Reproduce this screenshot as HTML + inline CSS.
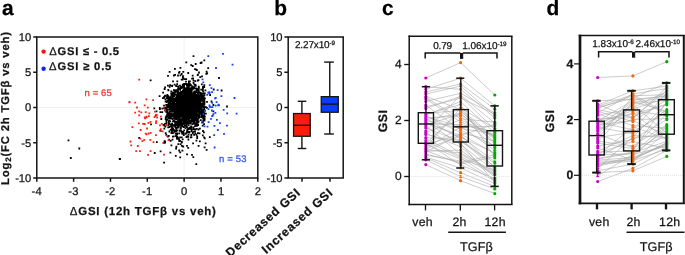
<!DOCTYPE html>
<html><head><meta charset="utf-8"><style>
html,body{margin:0;padding:0;background:#fff;}
svg{display:block;font-family:"Liberation Sans", sans-serif;text-rendering:geometricPrecision;will-change:transform;}
text{stroke-width:0.25px;}
</style></head><body>
<svg width="685" height="255" viewBox="0 0 685 255">
<rect width="685" height="255" fill="#fff"/>
<text x="2" y="15" font-size="20.9" text-anchor="start" font-weight="bold" fill="#000" stroke="#000" >a</text>
<text x="274.3" y="14.8" font-size="20.9" text-anchor="start" font-weight="bold" fill="#000" stroke="#000" >b</text>
<text x="381.9" y="15" font-size="20.9" text-anchor="start" font-weight="bold" fill="#000" stroke="#000" >c</text>
<text x="546.6" y="14.9" font-size="20.9" text-anchor="start" font-weight="bold" fill="#000" stroke="#000" >d</text>
<line x1="184.13" y1="37" x2="184.13" y2="178" stroke="#e4e4e4" stroke-width="1" stroke-dasharray="1 1"/>
<line x1="36.8" y1="107.5" x2="257.8" y2="107.5" stroke="#e4e4e4" stroke-width="1" stroke-dasharray="1 1"/>
<path d="M177.1 89.6h1.8v1.8h-1.8zM171.9 91.8h1.8v1.8h-1.8zM182.6 117.4h1.8v1.8h-1.8zM189.3 97.5h1.8v1.8h-1.8zM196.5 99.3h1.8v1.8h-1.8zM186.2 101.8h1.8v1.8h-1.8zM179.6 92.2h1.8v1.8h-1.8zM177.3 113.0h1.8v1.8h-1.8zM192.6 81.9h1.8v1.8h-1.8zM201.4 112.0h1.8v1.8h-1.8zM187.8 98.2h1.8v1.8h-1.8zM172.8 106.8h1.8v1.8h-1.8zM175.5 108.8h1.8v1.8h-1.8zM201.1 111.4h1.8v1.8h-1.8zM187.1 93.8h1.8v1.8h-1.8zM167.8 112.3h1.8v1.8h-1.8zM184.3 104.8h1.8v1.8h-1.8zM173.5 104.8h1.8v1.8h-1.8zM178.8 103.2h1.8v1.8h-1.8zM180.2 115.8h1.8v1.8h-1.8zM178.0 110.1h1.8v1.8h-1.8zM190.6 116.2h1.8v1.8h-1.8zM184.5 113.5h1.8v1.8h-1.8zM179.2 87.6h1.8v1.8h-1.8zM189.2 103.8h1.8v1.8h-1.8zM193.4 113.5h1.8v1.8h-1.8zM168.7 98.4h1.8v1.8h-1.8zM182.5 90.0h1.8v1.8h-1.8zM175.3 85.1h1.8v1.8h-1.8zM183.4 123.3h1.8v1.8h-1.8zM172.2 97.8h1.8v1.8h-1.8zM185.3 106.6h1.8v1.8h-1.8zM184.7 95.3h1.8v1.8h-1.8zM182.1 109.2h1.8v1.8h-1.8zM174.6 121.1h1.8v1.8h-1.8zM181.1 92.2h1.8v1.8h-1.8zM174.2 105.4h1.8v1.8h-1.8zM171.5 99.3h1.8v1.8h-1.8zM187.3 87.7h1.8v1.8h-1.8zM174.0 97.9h1.8v1.8h-1.8zM196.8 104.2h1.8v1.8h-1.8zM192.3 115.7h1.8v1.8h-1.8zM165.1 118.5h1.8v1.8h-1.8zM187.8 104.7h1.8v1.8h-1.8zM174.1 90.9h1.8v1.8h-1.8zM185.4 111.1h1.8v1.8h-1.8zM185.5 105.0h1.8v1.8h-1.8zM165.2 106.7h1.8v1.8h-1.8zM182.8 94.8h1.8v1.8h-1.8zM182.5 103.9h1.8v1.8h-1.8zM194.7 122.2h1.8v1.8h-1.8zM173.3 119.8h1.8v1.8h-1.8zM192.5 116.1h1.8v1.8h-1.8zM174.1 112.2h1.8v1.8h-1.8zM181.8 101.8h1.8v1.8h-1.8zM176.7 105.9h1.8v1.8h-1.8zM199.6 105.2h1.8v1.8h-1.8zM190.8 108.2h1.8v1.8h-1.8zM191.5 96.6h1.8v1.8h-1.8zM193.5 114.6h1.8v1.8h-1.8zM193.5 100.9h1.8v1.8h-1.8zM179.0 113.4h1.8v1.8h-1.8zM184.4 103.6h1.8v1.8h-1.8zM198.6 110.1h1.8v1.8h-1.8zM181.1 110.2h1.8v1.8h-1.8zM187.0 111.7h1.8v1.8h-1.8zM184.9 111.5h1.8v1.8h-1.8zM191.2 95.9h1.8v1.8h-1.8zM181.5 93.0h1.8v1.8h-1.8zM183.6 104.8h1.8v1.8h-1.8zM187.5 120.1h1.8v1.8h-1.8zM186.1 97.4h1.8v1.8h-1.8zM176.5 97.4h1.8v1.8h-1.8zM194.1 125.2h1.8v1.8h-1.8zM172.1 92.1h1.8v1.8h-1.8zM173.1 101.0h1.8v1.8h-1.8zM172.3 102.5h1.8v1.8h-1.8zM194.8 98.0h1.8v1.8h-1.8zM181.5 99.5h1.8v1.8h-1.8zM175.4 115.9h1.8v1.8h-1.8zM173.7 108.0h1.8v1.8h-1.8zM189.3 106.4h1.8v1.8h-1.8zM174.6 90.9h1.8v1.8h-1.8zM172.4 113.5h1.8v1.8h-1.8zM191.2 106.1h1.8v1.8h-1.8zM173.1 107.6h1.8v1.8h-1.8zM181.9 112.9h1.8v1.8h-1.8zM185.0 108.0h1.8v1.8h-1.8zM180.6 105.3h1.8v1.8h-1.8zM184.6 109.0h1.8v1.8h-1.8zM198.5 97.5h1.8v1.8h-1.8zM179.9 97.3h1.8v1.8h-1.8zM172.5 93.9h1.8v1.8h-1.8zM166.7 115.6h1.8v1.8h-1.8zM183.1 99.4h1.8v1.8h-1.8zM181.6 107.1h1.8v1.8h-1.8zM187.8 115.0h1.8v1.8h-1.8zM180.5 122.1h1.8v1.8h-1.8zM180.3 102.3h1.8v1.8h-1.8zM177.9 107.3h1.8v1.8h-1.8zM179.9 106.5h1.8v1.8h-1.8zM186.7 93.1h1.8v1.8h-1.8zM181.3 101.1h1.8v1.8h-1.8zM186.1 130.6h1.8v1.8h-1.8zM189.9 120.9h1.8v1.8h-1.8zM169.3 113.5h1.8v1.8h-1.8zM202.4 119.6h1.8v1.8h-1.8zM188.6 117.0h1.8v1.8h-1.8zM175.7 108.1h1.8v1.8h-1.8zM194.2 93.1h1.8v1.8h-1.8zM185.3 118.2h1.8v1.8h-1.8zM178.9 112.2h1.8v1.8h-1.8zM178.8 110.2h1.8v1.8h-1.8zM175.2 114.0h1.8v1.8h-1.8zM185.6 97.9h1.8v1.8h-1.8zM195.8 105.4h1.8v1.8h-1.8zM181.8 105.4h1.8v1.8h-1.8zM189.3 91.2h1.8v1.8h-1.8zM203.9 92.5h1.8v1.8h-1.8zM173.0 105.1h1.8v1.8h-1.8zM187.7 84.7h1.8v1.8h-1.8zM182.0 112.1h1.8v1.8h-1.8zM174.5 113.1h1.8v1.8h-1.8zM174.8 105.4h1.8v1.8h-1.8zM184.9 107.7h1.8v1.8h-1.8zM189.4 88.1h1.8v1.8h-1.8zM179.8 107.1h1.8v1.8h-1.8zM185.6 111.9h1.8v1.8h-1.8zM192.3 109.0h1.8v1.8h-1.8zM188.1 113.2h1.8v1.8h-1.8zM193.8 103.7h1.8v1.8h-1.8zM189.7 122.8h1.8v1.8h-1.8zM190.0 108.6h1.8v1.8h-1.8zM203.4 110.7h1.8v1.8h-1.8zM191.3 114.4h1.8v1.8h-1.8zM186.4 98.0h1.8v1.8h-1.8zM192.2 94.2h1.8v1.8h-1.8zM175.9 113.0h1.8v1.8h-1.8zM181.7 93.9h1.8v1.8h-1.8zM193.0 98.9h1.8v1.8h-1.8zM191.4 113.5h1.8v1.8h-1.8zM200.6 93.7h1.8v1.8h-1.8zM185.2 96.1h1.8v1.8h-1.8zM170.5 95.0h1.8v1.8h-1.8zM196.0 121.1h1.8v1.8h-1.8zM174.5 111.0h1.8v1.8h-1.8zM198.9 112.6h1.8v1.8h-1.8zM185.4 87.3h1.8v1.8h-1.8zM167.0 84.7h1.8v1.8h-1.8zM180.9 94.9h1.8v1.8h-1.8zM180.0 115.0h1.8v1.8h-1.8zM201.0 114.3h1.8v1.8h-1.8zM177.2 87.7h1.8v1.8h-1.8zM182.6 89.3h1.8v1.8h-1.8zM182.3 111.2h1.8v1.8h-1.8zM181.3 107.6h1.8v1.8h-1.8zM176.0 109.8h1.8v1.8h-1.8zM187.3 110.8h1.8v1.8h-1.8zM195.9 94.8h1.8v1.8h-1.8zM191.3 105.5h1.8v1.8h-1.8zM175.8 103.2h1.8v1.8h-1.8zM173.6 117.2h1.8v1.8h-1.8zM186.3 102.0h1.8v1.8h-1.8zM178.0 88.3h1.8v1.8h-1.8zM178.8 117.0h1.8v1.8h-1.8zM168.3 122.9h1.8v1.8h-1.8zM194.3 101.1h1.8v1.8h-1.8zM175.4 97.1h1.8v1.8h-1.8zM194.2 113.2h1.8v1.8h-1.8zM198.5 98.8h1.8v1.8h-1.8zM179.6 112.5h1.8v1.8h-1.8zM181.2 104.0h1.8v1.8h-1.8zM191.6 86.0h1.8v1.8h-1.8zM183.9 109.5h1.8v1.8h-1.8zM182.8 95.9h1.8v1.8h-1.8zM184.5 90.6h1.8v1.8h-1.8zM203.6 102.7h1.8v1.8h-1.8zM179.9 104.4h1.8v1.8h-1.8zM175.8 111.4h1.8v1.8h-1.8zM175.3 111.0h1.8v1.8h-1.8zM179.4 120.2h1.8v1.8h-1.8zM185.5 104.0h1.8v1.8h-1.8zM189.9 99.8h1.8v1.8h-1.8zM195.4 102.3h1.8v1.8h-1.8zM189.0 115.6h1.8v1.8h-1.8zM176.4 103.9h1.8v1.8h-1.8zM190.2 97.1h1.8v1.8h-1.8zM187.6 89.2h1.8v1.8h-1.8zM203.9 116.0h1.8v1.8h-1.8zM185.0 117.9h1.8v1.8h-1.8zM171.7 106.1h1.8v1.8h-1.8zM174.6 124.7h1.8v1.8h-1.8zM199.6 100.0h1.8v1.8h-1.8zM179.7 112.0h1.8v1.8h-1.8zM164.1 94.8h1.8v1.8h-1.8zM179.3 96.2h1.8v1.8h-1.8zM185.1 104.8h1.8v1.8h-1.8zM197.0 108.2h1.8v1.8h-1.8zM175.0 111.4h1.8v1.8h-1.8zM191.8 96.1h1.8v1.8h-1.8zM193.1 99.4h1.8v1.8h-1.8zM178.1 104.5h1.8v1.8h-1.8zM183.2 102.5h1.8v1.8h-1.8zM202.8 101.0h1.8v1.8h-1.8zM202.3 110.8h1.8v1.8h-1.8zM193.7 114.8h1.8v1.8h-1.8zM188.4 87.8h1.8v1.8h-1.8zM196.5 115.9h1.8v1.8h-1.8zM183.7 106.7h1.8v1.8h-1.8zM184.1 108.0h1.8v1.8h-1.8zM176.5 108.8h1.8v1.8h-1.8zM185.2 113.5h1.8v1.8h-1.8zM184.3 111.4h1.8v1.8h-1.8zM212.8 88.6h1.8v1.8h-1.8zM183.2 113.1h1.8v1.8h-1.8zM197.8 93.6h1.8v1.8h-1.8zM198.3 107.3h1.8v1.8h-1.8zM183.2 107.1h1.8v1.8h-1.8zM196.8 90.0h1.8v1.8h-1.8zM163.3 107.1h1.8v1.8h-1.8zM186.0 102.6h1.8v1.8h-1.8zM193.7 98.2h1.8v1.8h-1.8zM173.5 107.5h1.8v1.8h-1.8zM195.7 100.7h1.8v1.8h-1.8zM182.5 121.1h1.8v1.8h-1.8zM174.1 105.8h1.8v1.8h-1.8zM181.4 104.2h1.8v1.8h-1.8zM179.7 87.3h1.8v1.8h-1.8zM192.3 109.9h1.8v1.8h-1.8zM189.6 113.8h1.8v1.8h-1.8zM182.3 122.7h1.8v1.8h-1.8zM178.4 96.5h1.8v1.8h-1.8zM184.6 114.6h1.8v1.8h-1.8zM198.4 116.6h1.8v1.8h-1.8zM188.6 111.3h1.8v1.8h-1.8zM191.5 104.5h1.8v1.8h-1.8zM183.6 90.2h1.8v1.8h-1.8zM172.2 107.9h1.8v1.8h-1.8zM178.0 100.7h1.8v1.8h-1.8zM191.6 88.6h1.8v1.8h-1.8zM186.1 110.5h1.8v1.8h-1.8zM176.1 104.8h1.8v1.8h-1.8zM168.9 104.4h1.8v1.8h-1.8zM186.2 122.9h1.8v1.8h-1.8zM181.7 100.5h1.8v1.8h-1.8zM181.6 86.5h1.8v1.8h-1.8zM181.8 85.2h1.8v1.8h-1.8zM187.9 109.6h1.8v1.8h-1.8zM188.0 102.8h1.8v1.8h-1.8zM194.7 97.3h1.8v1.8h-1.8zM194.4 84.9h1.8v1.8h-1.8zM198.4 96.3h1.8v1.8h-1.8zM193.2 94.0h1.8v1.8h-1.8zM181.7 104.3h1.8v1.8h-1.8zM184.6 97.2h1.8v1.8h-1.8zM190.0 96.5h1.8v1.8h-1.8zM182.0 104.8h1.8v1.8h-1.8zM190.6 97.3h1.8v1.8h-1.8zM196.6 106.8h1.8v1.8h-1.8zM177.1 74.6h1.8v1.8h-1.8zM167.4 95.2h1.8v1.8h-1.8zM197.0 114.8h1.8v1.8h-1.8zM185.3 106.7h1.8v1.8h-1.8zM192.2 94.3h1.8v1.8h-1.8zM171.8 104.3h1.8v1.8h-1.8zM202.4 98.0h1.8v1.8h-1.8zM192.5 100.8h1.8v1.8h-1.8zM183.8 117.9h1.8v1.8h-1.8zM181.6 101.3h1.8v1.8h-1.8zM186.2 106.6h1.8v1.8h-1.8zM183.4 97.2h1.8v1.8h-1.8zM182.3 98.3h1.8v1.8h-1.8zM173.9 91.7h1.8v1.8h-1.8zM197.7 97.7h1.8v1.8h-1.8zM184.7 101.1h1.8v1.8h-1.8zM185.8 101.9h1.8v1.8h-1.8zM186.0 105.2h1.8v1.8h-1.8zM161.5 107.8h1.8v1.8h-1.8zM190.4 110.3h1.8v1.8h-1.8zM181.8 103.1h1.8v1.8h-1.8zM182.2 117.0h1.8v1.8h-1.8zM185.8 110.2h1.8v1.8h-1.8zM175.4 118.2h1.8v1.8h-1.8zM193.5 103.6h1.8v1.8h-1.8zM178.1 116.5h1.8v1.8h-1.8zM176.1 106.5h1.8v1.8h-1.8zM176.5 90.6h1.8v1.8h-1.8zM186.7 104.5h1.8v1.8h-1.8zM192.6 102.6h1.8v1.8h-1.8zM179.1 92.2h1.8v1.8h-1.8zM170.0 97.3h1.8v1.8h-1.8zM195.7 98.4h1.8v1.8h-1.8zM174.4 126.5h1.8v1.8h-1.8zM197.0 106.6h1.8v1.8h-1.8zM184.6 121.3h1.8v1.8h-1.8zM178.1 114.0h1.8v1.8h-1.8zM178.7 115.3h1.8v1.8h-1.8zM189.7 111.8h1.8v1.8h-1.8zM194.0 90.6h1.8v1.8h-1.8zM183.1 116.4h1.8v1.8h-1.8zM194.6 95.0h1.8v1.8h-1.8zM206.0 107.0h1.8v1.8h-1.8zM183.0 104.2h1.8v1.8h-1.8zM173.6 120.6h1.8v1.8h-1.8zM174.6 116.7h1.8v1.8h-1.8zM171.2 122.8h1.8v1.8h-1.8zM178.7 110.0h1.8v1.8h-1.8zM177.9 105.7h1.8v1.8h-1.8zM171.8 113.2h1.8v1.8h-1.8zM190.4 126.2h1.8v1.8h-1.8zM171.9 106.6h1.8v1.8h-1.8zM195.5 97.4h1.8v1.8h-1.8zM190.3 103.8h1.8v1.8h-1.8zM189.7 110.7h1.8v1.8h-1.8zM202.8 109.1h1.8v1.8h-1.8zM190.5 103.7h1.8v1.8h-1.8zM185.9 106.2h1.8v1.8h-1.8zM172.8 120.0h1.8v1.8h-1.8zM184.4 121.8h1.8v1.8h-1.8zM177.8 116.5h1.8v1.8h-1.8zM178.0 119.5h1.8v1.8h-1.8zM178.0 116.9h1.8v1.8h-1.8zM184.7 121.6h1.8v1.8h-1.8zM181.8 94.1h1.8v1.8h-1.8zM193.8 99.7h1.8v1.8h-1.8zM171.8 108.4h1.8v1.8h-1.8zM183.4 108.8h1.8v1.8h-1.8zM203.7 115.5h1.8v1.8h-1.8zM185.5 88.5h1.8v1.8h-1.8zM197.1 105.4h1.8v1.8h-1.8zM196.5 106.5h1.8v1.8h-1.8zM198.3 97.9h1.8v1.8h-1.8zM192.5 103.2h1.8v1.8h-1.8zM171.3 115.4h1.8v1.8h-1.8zM182.4 109.6h1.8v1.8h-1.8zM181.3 104.4h1.8v1.8h-1.8zM169.6 108.4h1.8v1.8h-1.8zM180.5 104.5h1.8v1.8h-1.8zM172.6 114.7h1.8v1.8h-1.8zM168.4 105.8h1.8v1.8h-1.8zM187.2 113.8h1.8v1.8h-1.8zM184.7 100.2h1.8v1.8h-1.8zM178.2 105.5h1.8v1.8h-1.8zM175.6 96.0h1.8v1.8h-1.8zM179.7 103.8h1.8v1.8h-1.8zM181.2 113.1h1.8v1.8h-1.8zM181.0 96.5h1.8v1.8h-1.8zM184.6 102.1h1.8v1.8h-1.8zM180.7 106.6h1.8v1.8h-1.8zM189.0 101.7h1.8v1.8h-1.8zM190.3 112.3h1.8v1.8h-1.8zM188.7 93.7h1.8v1.8h-1.8zM178.5 113.6h1.8v1.8h-1.8zM178.9 117.7h1.8v1.8h-1.8zM189.4 119.8h1.8v1.8h-1.8zM183.1 104.9h1.8v1.8h-1.8zM184.7 98.1h1.8v1.8h-1.8zM188.5 112.4h1.8v1.8h-1.8zM188.4 107.6h1.8v1.8h-1.8zM199.0 107.1h1.8v1.8h-1.8zM192.3 110.7h1.8v1.8h-1.8zM187.3 101.8h1.8v1.8h-1.8zM185.3 92.0h1.8v1.8h-1.8zM170.8 93.7h1.8v1.8h-1.8zM193.9 97.4h1.8v1.8h-1.8zM179.1 97.6h1.8v1.8h-1.8zM190.1 90.5h1.8v1.8h-1.8zM187.1 101.2h1.8v1.8h-1.8zM187.8 95.7h1.8v1.8h-1.8zM194.0 110.4h1.8v1.8h-1.8zM180.2 105.1h1.8v1.8h-1.8zM181.2 112.8h1.8v1.8h-1.8zM176.5 94.1h1.8v1.8h-1.8zM181.3 95.7h1.8v1.8h-1.8zM201.8 89.4h1.8v1.8h-1.8zM181.5 108.2h1.8v1.8h-1.8zM197.0 132.3h1.8v1.8h-1.8zM193.4 106.6h1.8v1.8h-1.8zM192.4 100.7h1.8v1.8h-1.8zM193.1 106.5h1.8v1.8h-1.8zM175.0 105.9h1.8v1.8h-1.8zM188.8 113.7h1.8v1.8h-1.8zM201.0 103.8h1.8v1.8h-1.8zM178.1 98.0h1.8v1.8h-1.8zM184.6 88.2h1.8v1.8h-1.8zM178.2 109.2h1.8v1.8h-1.8zM188.3 114.1h1.8v1.8h-1.8zM174.3 107.6h1.8v1.8h-1.8zM201.2 95.9h1.8v1.8h-1.8zM181.3 101.7h1.8v1.8h-1.8zM169.7 103.8h1.8v1.8h-1.8zM203.0 108.9h1.8v1.8h-1.8zM194.8 103.9h1.8v1.8h-1.8zM190.3 115.4h1.8v1.8h-1.8zM190.4 103.0h1.8v1.8h-1.8zM181.5 99.8h1.8v1.8h-1.8zM182.9 122.2h1.8v1.8h-1.8zM192.3 95.6h1.8v1.8h-1.8zM194.3 97.4h1.8v1.8h-1.8zM194.4 123.3h1.8v1.8h-1.8zM187.2 107.7h1.8v1.8h-1.8zM180.4 121.8h1.8v1.8h-1.8zM183.2 83.0h1.8v1.8h-1.8zM196.2 115.6h1.8v1.8h-1.8zM199.5 104.0h1.8v1.8h-1.8zM181.7 106.6h1.8v1.8h-1.8zM180.3 110.2h1.8v1.8h-1.8zM197.6 79.3h1.8v1.8h-1.8zM192.3 96.6h1.8v1.8h-1.8zM192.1 108.7h1.8v1.8h-1.8zM172.0 135.7h1.8v1.8h-1.8zM181.4 98.9h1.8v1.8h-1.8zM180.0 127.1h1.8v1.8h-1.8zM187.2 110.9h1.8v1.8h-1.8zM168.3 116.1h1.8v1.8h-1.8zM197.8 95.5h1.8v1.8h-1.8zM188.1 110.6h1.8v1.8h-1.8zM189.4 97.2h1.8v1.8h-1.8zM173.3 95.5h1.8v1.8h-1.8zM184.8 116.9h1.8v1.8h-1.8zM198.4 97.8h1.8v1.8h-1.8zM169.4 102.1h1.8v1.8h-1.8zM188.2 111.3h1.8v1.8h-1.8zM192.1 97.4h1.8v1.8h-1.8zM178.2 94.5h1.8v1.8h-1.8zM193.2 106.6h1.8v1.8h-1.8zM181.8 108.1h1.8v1.8h-1.8zM197.4 117.9h1.8v1.8h-1.8zM190.4 94.7h1.8v1.8h-1.8zM187.3 111.6h1.8v1.8h-1.8zM193.4 100.6h1.8v1.8h-1.8zM198.2 102.6h1.8v1.8h-1.8zM173.2 106.5h1.8v1.8h-1.8zM178.6 96.5h1.8v1.8h-1.8zM193.5 92.6h1.8v1.8h-1.8zM194.2 110.8h1.8v1.8h-1.8zM184.5 95.7h1.8v1.8h-1.8zM192.9 95.7h1.8v1.8h-1.8zM174.5 113.3h1.8v1.8h-1.8zM187.2 100.1h1.8v1.8h-1.8zM173.6 102.6h1.8v1.8h-1.8zM188.5 92.2h1.8v1.8h-1.8zM180.2 94.5h1.8v1.8h-1.8zM178.7 93.2h1.8v1.8h-1.8zM185.7 92.6h1.8v1.8h-1.8zM203.3 114.7h1.8v1.8h-1.8zM175.0 97.3h1.8v1.8h-1.8zM179.1 84.7h1.8v1.8h-1.8zM195.8 94.1h1.8v1.8h-1.8zM180.9 111.7h1.8v1.8h-1.8zM202.8 92.8h1.8v1.8h-1.8zM187.3 104.3h1.8v1.8h-1.8zM186.0 96.3h1.8v1.8h-1.8zM188.7 88.6h1.8v1.8h-1.8zM202.5 98.3h1.8v1.8h-1.8zM191.7 94.9h1.8v1.8h-1.8zM190.3 105.9h1.8v1.8h-1.8zM187.6 110.9h1.8v1.8h-1.8zM169.5 105.5h1.8v1.8h-1.8zM176.2 129.4h1.8v1.8h-1.8zM199.9 93.8h1.8v1.8h-1.8zM193.3 116.1h1.8v1.8h-1.8zM190.2 108.1h1.8v1.8h-1.8zM191.5 116.8h1.8v1.8h-1.8zM179.7 110.0h1.8v1.8h-1.8zM188.5 84.1h1.8v1.8h-1.8zM176.1 102.8h1.8v1.8h-1.8zM189.0 113.6h1.8v1.8h-1.8zM178.0 105.5h1.8v1.8h-1.8zM183.0 92.9h1.8v1.8h-1.8zM189.6 99.3h1.8v1.8h-1.8zM181.8 107.9h1.8v1.8h-1.8zM191.6 115.1h1.8v1.8h-1.8zM189.7 98.8h1.8v1.8h-1.8zM188.7 105.2h1.8v1.8h-1.8zM198.3 95.0h1.8v1.8h-1.8zM170.4 95.0h1.8v1.8h-1.8zM169.1 101.3h1.8v1.8h-1.8zM191.3 116.2h1.8v1.8h-1.8zM194.5 110.2h1.8v1.8h-1.8zM192.7 103.6h1.8v1.8h-1.8zM193.4 108.6h1.8v1.8h-1.8zM176.3 104.1h1.8v1.8h-1.8zM192.6 99.8h1.8v1.8h-1.8zM191.8 101.1h1.8v1.8h-1.8zM174.5 111.1h1.8v1.8h-1.8zM176.1 101.6h1.8v1.8h-1.8zM184.0 111.5h1.8v1.8h-1.8zM188.0 87.3h1.8v1.8h-1.8zM185.8 100.4h1.8v1.8h-1.8zM187.4 109.4h1.8v1.8h-1.8zM183.3 96.1h1.8v1.8h-1.8zM187.8 99.2h1.8v1.8h-1.8zM189.7 106.7h1.8v1.8h-1.8zM175.0 104.2h1.8v1.8h-1.8zM189.3 97.8h1.8v1.8h-1.8zM182.6 101.4h1.8v1.8h-1.8zM175.6 96.7h1.8v1.8h-1.8zM187.2 111.3h1.8v1.8h-1.8zM200.0 106.8h1.8v1.8h-1.8zM170.5 113.3h1.8v1.8h-1.8zM168.6 126.1h1.8v1.8h-1.8zM168.6 117.1h1.8v1.8h-1.8zM182.6 103.8h1.8v1.8h-1.8zM184.5 125.0h1.8v1.8h-1.8zM177.2 107.6h1.8v1.8h-1.8zM175.7 103.6h1.8v1.8h-1.8zM164.8 118.3h1.8v1.8h-1.8zM186.8 108.6h1.8v1.8h-1.8zM187.7 102.5h1.8v1.8h-1.8zM165.3 110.9h1.8v1.8h-1.8zM174.7 123.8h1.8v1.8h-1.8zM177.7 107.3h1.8v1.8h-1.8zM184.8 108.9h1.8v1.8h-1.8zM187.5 97.4h1.8v1.8h-1.8zM196.4 100.3h1.8v1.8h-1.8zM198.7 112.4h1.8v1.8h-1.8zM195.8 103.9h1.8v1.8h-1.8zM198.5 105.7h1.8v1.8h-1.8zM173.4 116.8h1.8v1.8h-1.8zM179.6 103.4h1.8v1.8h-1.8zM196.5 118.8h1.8v1.8h-1.8zM188.0 99.9h1.8v1.8h-1.8zM185.3 99.1h1.8v1.8h-1.8zM165.3 100.5h1.8v1.8h-1.8zM166.5 94.1h1.8v1.8h-1.8zM192.4 110.2h1.8v1.8h-1.8zM188.5 105.8h1.8v1.8h-1.8zM182.1 118.5h1.8v1.8h-1.8zM181.0 99.7h1.8v1.8h-1.8zM167.8 114.2h1.8v1.8h-1.8zM188.8 117.5h1.8v1.8h-1.8zM195.4 102.9h1.8v1.8h-1.8zM201.5 102.8h1.8v1.8h-1.8zM185.6 83.3h1.8v1.8h-1.8zM183.1 123.3h1.8v1.8h-1.8zM174.1 105.5h1.8v1.8h-1.8zM197.3 110.7h1.8v1.8h-1.8zM202.2 99.4h1.8v1.8h-1.8zM179.0 109.3h1.8v1.8h-1.8zM188.0 95.0h1.8v1.8h-1.8zM186.0 112.2h1.8v1.8h-1.8zM179.4 107.0h1.8v1.8h-1.8zM181.4 109.8h1.8v1.8h-1.8zM191.2 88.9h1.8v1.8h-1.8zM170.7 108.3h1.8v1.8h-1.8zM176.7 102.4h1.8v1.8h-1.8zM197.9 111.3h1.8v1.8h-1.8zM190.1 103.4h1.8v1.8h-1.8zM185.6 102.8h1.8v1.8h-1.8zM182.4 132.5h1.8v1.8h-1.8zM178.7 97.1h1.8v1.8h-1.8zM184.3 122.5h1.8v1.8h-1.8zM182.0 114.0h1.8v1.8h-1.8zM182.6 112.6h1.8v1.8h-1.8zM184.8 88.3h1.8v1.8h-1.8zM186.4 112.7h1.8v1.8h-1.8zM200.6 99.4h1.8v1.8h-1.8zM170.6 98.5h1.8v1.8h-1.8zM187.7 110.4h1.8v1.8h-1.8zM178.9 99.5h1.8v1.8h-1.8zM173.7 111.4h1.8v1.8h-1.8zM191.2 110.0h1.8v1.8h-1.8zM175.2 110.1h1.8v1.8h-1.8zM177.5 98.3h1.8v1.8h-1.8zM189.7 96.2h1.8v1.8h-1.8zM174.2 100.1h1.8v1.8h-1.8zM185.3 100.3h1.8v1.8h-1.8zM184.3 99.8h1.8v1.8h-1.8zM193.0 121.0h1.8v1.8h-1.8zM195.1 107.9h1.8v1.8h-1.8zM176.3 102.7h1.8v1.8h-1.8zM194.2 101.3h1.8v1.8h-1.8zM184.0 97.9h1.8v1.8h-1.8zM186.2 107.4h1.8v1.8h-1.8zM182.9 104.6h1.8v1.8h-1.8zM192.8 98.2h1.8v1.8h-1.8zM172.9 99.8h1.8v1.8h-1.8zM187.6 101.1h1.8v1.8h-1.8zM196.8 94.4h1.8v1.8h-1.8zM182.2 106.2h1.8v1.8h-1.8zM177.6 110.5h1.8v1.8h-1.8zM187.1 101.8h1.8v1.8h-1.8zM180.2 110.2h1.8v1.8h-1.8zM178.8 100.3h1.8v1.8h-1.8zM173.8 89.2h1.8v1.8h-1.8zM179.6 93.7h1.8v1.8h-1.8zM184.5 102.5h1.8v1.8h-1.8zM177.0 109.2h1.8v1.8h-1.8zM193.8 107.9h1.8v1.8h-1.8zM200.2 108.4h1.8v1.8h-1.8zM169.7 112.6h1.8v1.8h-1.8zM193.3 107.7h1.8v1.8h-1.8zM186.9 108.9h1.8v1.8h-1.8zM187.4 102.9h1.8v1.8h-1.8zM197.0 103.1h1.8v1.8h-1.8zM188.3 104.2h1.8v1.8h-1.8zM186.8 106.7h1.8v1.8h-1.8zM163.4 127.7h1.8v1.8h-1.8zM192.8 91.3h1.8v1.8h-1.8zM177.6 101.6h1.8v1.8h-1.8zM186.9 102.7h1.8v1.8h-1.8zM186.1 108.9h1.8v1.8h-1.8zM194.7 104.5h1.8v1.8h-1.8zM194.9 90.4h1.8v1.8h-1.8zM197.8 120.4h1.8v1.8h-1.8zM182.8 94.3h1.8v1.8h-1.8zM189.7 98.5h1.8v1.8h-1.8zM192.8 109.6h1.8v1.8h-1.8zM170.7 107.4h1.8v1.8h-1.8zM178.0 106.6h1.8v1.8h-1.8zM172.3 110.0h1.8v1.8h-1.8zM201.4 112.5h1.8v1.8h-1.8zM178.1 94.7h1.8v1.8h-1.8zM179.0 99.3h1.8v1.8h-1.8zM186.2 122.5h1.8v1.8h-1.8zM165.3 115.5h1.8v1.8h-1.8zM179.0 115.5h1.8v1.8h-1.8zM205.1 106.3h1.8v1.8h-1.8zM191.7 123.3h1.8v1.8h-1.8zM192.6 99.5h1.8v1.8h-1.8zM197.3 101.2h1.8v1.8h-1.8zM191.9 97.8h1.8v1.8h-1.8zM181.8 119.7h1.8v1.8h-1.8zM169.2 102.1h1.8v1.8h-1.8zM189.6 109.5h1.8v1.8h-1.8zM173.9 94.0h1.8v1.8h-1.8zM184.5 92.3h1.8v1.8h-1.8zM202.7 112.6h1.8v1.8h-1.8zM190.5 111.2h1.8v1.8h-1.8zM185.7 112.9h1.8v1.8h-1.8zM185.8 107.2h1.8v1.8h-1.8zM192.4 102.1h1.8v1.8h-1.8zM194.3 100.9h1.8v1.8h-1.8zM171.9 96.7h1.8v1.8h-1.8zM187.0 101.8h1.8v1.8h-1.8zM202.3 115.9h1.8v1.8h-1.8zM192.6 103.3h1.8v1.8h-1.8zM177.4 94.4h1.8v1.8h-1.8zM178.3 103.9h1.8v1.8h-1.8zM164.5 98.5h1.8v1.8h-1.8zM177.2 95.9h1.8v1.8h-1.8zM201.2 103.0h1.8v1.8h-1.8zM184.4 98.6h1.8v1.8h-1.8zM176.5 94.9h1.8v1.8h-1.8zM179.3 119.5h1.8v1.8h-1.8zM184.0 120.8h1.8v1.8h-1.8zM184.0 106.7h1.8v1.8h-1.8zM181.6 118.9h1.8v1.8h-1.8zM177.4 102.0h1.8v1.8h-1.8zM191.5 104.5h1.8v1.8h-1.8zM200.5 115.6h1.8v1.8h-1.8zM179.4 108.5h1.8v1.8h-1.8zM179.7 113.1h1.8v1.8h-1.8zM197.0 79.6h1.8v1.8h-1.8zM170.5 109.2h1.8v1.8h-1.8zM179.2 102.0h1.8v1.8h-1.8zM181.3 104.6h1.8v1.8h-1.8zM186.8 91.5h1.8v1.8h-1.8zM182.4 98.6h1.8v1.8h-1.8zM176.2 111.4h1.8v1.8h-1.8zM188.2 110.2h1.8v1.8h-1.8zM173.2 113.2h1.8v1.8h-1.8zM167.7 114.4h1.8v1.8h-1.8zM164.8 116.8h1.8v1.8h-1.8zM192.6 108.0h1.8v1.8h-1.8zM167.7 104.6h1.8v1.8h-1.8zM189.6 99.6h1.8v1.8h-1.8zM191.8 100.8h1.8v1.8h-1.8zM193.2 95.8h1.8v1.8h-1.8zM183.4 96.4h1.8v1.8h-1.8zM179.6 104.8h1.8v1.8h-1.8zM186.0 84.7h1.8v1.8h-1.8zM179.2 94.7h1.8v1.8h-1.8zM172.2 99.1h1.8v1.8h-1.8zM197.7 108.7h1.8v1.8h-1.8zM176.2 115.6h1.8v1.8h-1.8zM203.1 106.5h1.8v1.8h-1.8zM190.2 104.3h1.8v1.8h-1.8zM180.6 101.2h1.8v1.8h-1.8zM189.5 114.7h1.8v1.8h-1.8zM197.4 110.4h1.8v1.8h-1.8zM171.3 100.5h1.8v1.8h-1.8zM175.8 105.8h1.8v1.8h-1.8zM174.6 109.8h1.8v1.8h-1.8zM186.8 113.2h1.8v1.8h-1.8zM189.1 101.9h1.8v1.8h-1.8zM185.4 118.6h1.8v1.8h-1.8zM177.8 116.4h1.8v1.8h-1.8zM179.8 102.0h1.8v1.8h-1.8zM197.0 102.5h1.8v1.8h-1.8zM196.3 96.0h1.8v1.8h-1.8zM186.4 97.2h1.8v1.8h-1.8zM172.0 109.4h1.8v1.8h-1.8zM191.4 117.6h1.8v1.8h-1.8zM188.0 118.0h1.8v1.8h-1.8zM187.6 107.0h1.8v1.8h-1.8zM202.4 100.6h1.8v1.8h-1.8zM193.3 99.0h1.8v1.8h-1.8zM175.4 110.3h1.8v1.8h-1.8zM175.5 102.3h1.8v1.8h-1.8zM198.9 110.8h1.8v1.8h-1.8zM187.2 104.4h1.8v1.8h-1.8zM194.0 107.5h1.8v1.8h-1.8zM184.0 101.1h1.8v1.8h-1.8zM175.6 124.6h1.8v1.8h-1.8zM188.3 115.6h1.8v1.8h-1.8zM201.3 105.1h1.8v1.8h-1.8zM189.1 97.5h1.8v1.8h-1.8zM174.4 111.7h1.8v1.8h-1.8zM182.6 112.7h1.8v1.8h-1.8zM180.8 96.0h1.8v1.8h-1.8zM187.6 106.2h1.8v1.8h-1.8zM196.1 123.0h1.8v1.8h-1.8zM188.2 102.0h1.8v1.8h-1.8zM181.7 111.4h1.8v1.8h-1.8zM186.8 121.9h1.8v1.8h-1.8zM186.2 101.8h1.8v1.8h-1.8zM181.8 102.3h1.8v1.8h-1.8zM186.3 103.6h1.8v1.8h-1.8zM186.1 106.5h1.8v1.8h-1.8zM174.3 117.5h1.8v1.8h-1.8zM191.5 108.3h1.8v1.8h-1.8zM182.4 86.4h1.8v1.8h-1.8zM176.2 110.7h1.8v1.8h-1.8zM191.0 109.0h1.8v1.8h-1.8zM181.2 112.1h1.8v1.8h-1.8zM203.5 106.8h1.8v1.8h-1.8zM190.8 104.4h1.8v1.8h-1.8zM186.8 110.4h1.8v1.8h-1.8zM178.4 100.6h1.8v1.8h-1.8zM181.9 91.3h1.8v1.8h-1.8zM194.5 102.1h1.8v1.8h-1.8zM179.1 96.7h1.8v1.8h-1.8zM193.5 120.2h1.8v1.8h-1.8zM164.9 106.7h1.8v1.8h-1.8zM187.9 119.6h1.8v1.8h-1.8zM194.1 93.0h1.8v1.8h-1.8zM189.3 94.6h1.8v1.8h-1.8zM185.8 109.5h1.8v1.8h-1.8zM196.0 89.5h1.8v1.8h-1.8zM177.3 100.7h1.8v1.8h-1.8zM176.0 89.2h1.8v1.8h-1.8zM186.9 109.2h1.8v1.8h-1.8zM197.9 89.1h1.8v1.8h-1.8zM190.2 103.9h1.8v1.8h-1.8zM183.9 89.9h1.8v1.8h-1.8zM188.9 109.5h1.8v1.8h-1.8zM190.3 114.6h1.8v1.8h-1.8zM173.4 107.6h1.8v1.8h-1.8zM175.6 110.1h1.8v1.8h-1.8zM170.9 115.4h1.8v1.8h-1.8zM180.0 112.7h1.8v1.8h-1.8zM173.8 117.7h1.8v1.8h-1.8zM177.2 123.1h1.8v1.8h-1.8zM190.2 107.0h1.8v1.8h-1.8zM186.8 102.9h1.8v1.8h-1.8zM185.6 99.7h1.8v1.8h-1.8zM202.5 103.7h1.8v1.8h-1.8zM181.3 103.6h1.8v1.8h-1.8zM182.1 100.9h1.8v1.8h-1.8zM198.6 107.2h1.8v1.8h-1.8zM174.8 124.0h1.8v1.8h-1.8zM169.7 99.6h1.8v1.8h-1.8zM199.1 99.7h1.8v1.8h-1.8zM189.4 101.7h1.8v1.8h-1.8zM192.0 95.5h1.8v1.8h-1.8zM192.4 114.0h1.8v1.8h-1.8zM195.1 103.0h1.8v1.8h-1.8zM181.4 110.9h1.8v1.8h-1.8zM185.3 90.8h1.8v1.8h-1.8zM175.0 111.1h1.8v1.8h-1.8zM187.5 103.8h1.8v1.8h-1.8zM188.5 91.9h1.8v1.8h-1.8zM181.6 113.2h1.8v1.8h-1.8zM192.9 112.9h1.8v1.8h-1.8zM174.7 110.3h1.8v1.8h-1.8zM194.5 95.8h1.8v1.8h-1.8zM195.7 113.4h1.8v1.8h-1.8zM197.0 102.0h1.8v1.8h-1.8zM178.3 110.0h1.8v1.8h-1.8zM198.3 109.3h1.8v1.8h-1.8zM192.9 108.8h1.8v1.8h-1.8zM185.1 98.7h1.8v1.8h-1.8zM183.0 107.8h1.8v1.8h-1.8zM188.9 106.1h1.8v1.8h-1.8zM195.8 114.8h1.8v1.8h-1.8zM195.3 97.5h1.8v1.8h-1.8zM183.0 109.7h1.8v1.8h-1.8zM192.8 105.0h1.8v1.8h-1.8zM182.3 122.3h1.8v1.8h-1.8zM194.5 111.6h1.8v1.8h-1.8zM188.0 100.1h1.8v1.8h-1.8zM180.7 108.3h1.8v1.8h-1.8zM173.4 99.6h1.8v1.8h-1.8zM179.0 95.3h1.8v1.8h-1.8zM189.1 100.4h1.8v1.8h-1.8zM201.4 99.4h1.8v1.8h-1.8zM194.4 119.6h1.8v1.8h-1.8zM174.7 113.3h1.8v1.8h-1.8zM181.8 83.8h1.8v1.8h-1.8zM186.9 103.6h1.8v1.8h-1.8zM185.2 98.9h1.8v1.8h-1.8zM187.0 103.7h1.8v1.8h-1.8zM194.0 106.0h1.8v1.8h-1.8zM188.2 105.3h1.8v1.8h-1.8zM179.1 109.5h1.8v1.8h-1.8zM166.7 99.8h1.8v1.8h-1.8zM182.4 118.0h1.8v1.8h-1.8zM169.0 105.4h1.8v1.8h-1.8zM184.1 116.3h1.8v1.8h-1.8zM188.7 104.0h1.8v1.8h-1.8zM172.1 110.8h1.8v1.8h-1.8zM183.9 96.7h1.8v1.8h-1.8zM181.8 115.4h1.8v1.8h-1.8zM189.6 101.1h1.8v1.8h-1.8zM166.1 110.3h1.8v1.8h-1.8zM189.3 109.0h1.8v1.8h-1.8zM189.0 91.0h1.8v1.8h-1.8zM182.8 98.6h1.8v1.8h-1.8zM181.0 96.6h1.8v1.8h-1.8zM190.6 112.0h1.8v1.8h-1.8zM191.2 106.2h1.8v1.8h-1.8zM188.9 98.8h1.8v1.8h-1.8zM174.6 99.7h1.8v1.8h-1.8zM182.0 105.0h1.8v1.8h-1.8zM168.8 86.0h1.8v1.8h-1.8zM169.4 105.0h1.8v1.8h-1.8zM178.8 119.7h1.8v1.8h-1.8zM173.8 93.6h1.8v1.8h-1.8zM180.1 94.8h1.8v1.8h-1.8zM189.1 108.7h1.8v1.8h-1.8zM175.3 99.2h1.8v1.8h-1.8zM162.5 123.9h1.8v1.8h-1.8zM175.7 104.1h1.8v1.8h-1.8zM169.7 102.0h1.8v1.8h-1.8zM162.0 97.3h1.8v1.8h-1.8zM191.2 110.6h1.8v1.8h-1.8zM179.1 115.2h1.8v1.8h-1.8zM188.3 106.3h1.8v1.8h-1.8zM186.6 116.1h1.8v1.8h-1.8zM185.0 108.3h1.8v1.8h-1.8zM187.3 105.5h1.8v1.8h-1.8zM181.2 100.6h1.8v1.8h-1.8zM175.6 108.0h1.8v1.8h-1.8zM181.7 102.4h1.8v1.8h-1.8zM195.3 117.5h1.8v1.8h-1.8zM181.2 112.3h1.8v1.8h-1.8zM170.2 105.1h1.8v1.8h-1.8zM171.4 103.0h1.8v1.8h-1.8zM173.6 110.0h1.8v1.8h-1.8zM184.0 114.7h1.8v1.8h-1.8zM188.8 107.5h1.8v1.8h-1.8zM188.8 114.1h1.8v1.8h-1.8zM195.9 100.3h1.8v1.8h-1.8zM182.0 107.6h1.8v1.8h-1.8zM192.5 110.5h1.8v1.8h-1.8zM187.5 106.9h1.8v1.8h-1.8zM191.3 108.3h1.8v1.8h-1.8zM165.9 116.2h1.8v1.8h-1.8zM196.9 104.4h1.8v1.8h-1.8zM169.0 115.8h1.8v1.8h-1.8zM173.3 102.0h1.8v1.8h-1.8zM192.4 109.3h1.8v1.8h-1.8zM180.8 102.1h1.8v1.8h-1.8zM202.4 100.6h1.8v1.8h-1.8zM186.4 110.9h1.8v1.8h-1.8zM174.5 118.0h1.8v1.8h-1.8zM186.4 104.5h1.8v1.8h-1.8zM180.8 106.9h1.8v1.8h-1.8zM200.4 116.2h1.8v1.8h-1.8zM201.2 97.2h1.8v1.8h-1.8zM192.3 113.3h1.8v1.8h-1.8zM180.9 95.8h1.8v1.8h-1.8zM185.8 88.9h1.8v1.8h-1.8zM195.5 108.0h1.8v1.8h-1.8zM177.0 104.0h1.8v1.8h-1.8zM177.0 102.0h1.8v1.8h-1.8zM193.5 83.6h1.8v1.8h-1.8zM192.4 108.4h1.8v1.8h-1.8zM182.7 101.9h1.8v1.8h-1.8zM182.3 95.5h1.8v1.8h-1.8zM165.5 106.5h1.8v1.8h-1.8zM196.8 94.0h1.8v1.8h-1.8zM183.8 98.9h1.8v1.8h-1.8zM170.7 99.7h1.8v1.8h-1.8zM173.7 115.4h1.8v1.8h-1.8zM176.1 105.5h1.8v1.8h-1.8zM202.1 115.6h1.8v1.8h-1.8zM192.0 97.8h1.8v1.8h-1.8zM171.7 96.1h1.8v1.8h-1.8zM203.6 119.7h1.8v1.8h-1.8zM198.5 92.0h1.8v1.8h-1.8zM174.5 117.4h1.8v1.8h-1.8zM194.7 111.1h1.8v1.8h-1.8zM179.1 99.5h1.8v1.8h-1.8zM183.7 119.2h1.8v1.8h-1.8zM179.9 123.7h1.8v1.8h-1.8zM197.7 113.8h1.8v1.8h-1.8zM199.9 107.4h1.8v1.8h-1.8zM193.2 101.6h1.8v1.8h-1.8zM183.6 112.8h1.8v1.8h-1.8zM187.7 124.2h1.8v1.8h-1.8zM191.3 101.1h1.8v1.8h-1.8zM169.4 97.0h1.8v1.8h-1.8zM197.5 120.6h1.8v1.8h-1.8zM181.9 104.0h1.8v1.8h-1.8zM187.7 112.1h1.8v1.8h-1.8zM186.5 107.4h1.8v1.8h-1.8zM194.2 107.4h1.8v1.8h-1.8zM195.8 102.4h1.8v1.8h-1.8zM181.6 91.2h1.8v1.8h-1.8zM176.1 101.6h1.8v1.8h-1.8zM186.5 98.0h1.8v1.8h-1.8zM178.7 116.8h1.8v1.8h-1.8zM193.9 102.3h1.8v1.8h-1.8zM177.2 107.5h1.8v1.8h-1.8zM186.6 90.7h1.8v1.8h-1.8zM194.7 105.7h1.8v1.8h-1.8zM195.4 118.6h1.8v1.8h-1.8zM187.4 107.2h1.8v1.8h-1.8zM199.4 112.4h1.8v1.8h-1.8zM198.2 101.9h1.8v1.8h-1.8zM168.4 101.9h1.8v1.8h-1.8zM189.0 114.1h1.8v1.8h-1.8zM187.2 101.7h1.8v1.8h-1.8zM182.4 96.7h1.8v1.8h-1.8zM179.0 105.5h1.8v1.8h-1.8zM185.9 102.4h1.8v1.8h-1.8zM189.3 114.9h1.8v1.8h-1.8zM188.2 112.1h1.8v1.8h-1.8zM199.1 91.7h1.8v1.8h-1.8zM195.4 109.5h1.8v1.8h-1.8zM179.6 94.4h1.8v1.8h-1.8zM177.9 108.1h1.8v1.8h-1.8zM193.9 110.2h1.8v1.8h-1.8zM178.5 101.8h1.8v1.8h-1.8zM187.1 101.0h1.8v1.8h-1.8zM190.2 112.2h1.8v1.8h-1.8zM195.8 102.2h1.8v1.8h-1.8zM190.6 95.3h1.8v1.8h-1.8zM199.9 119.2h1.8v1.8h-1.8zM180.9 114.1h1.8v1.8h-1.8zM192.2 109.5h1.8v1.8h-1.8zM178.9 109.6h1.8v1.8h-1.8zM187.4 114.8h1.8v1.8h-1.8zM186.7 106.6h1.8v1.8h-1.8zM176.2 113.8h1.8v1.8h-1.8zM159.5 111.2h1.8v1.8h-1.8zM195.1 99.1h1.8v1.8h-1.8zM189.1 115.2h1.8v1.8h-1.8zM186.9 107.4h1.8v1.8h-1.8zM178.5 99.4h1.8v1.8h-1.8zM182.2 102.4h1.8v1.8h-1.8zM190.1 84.2h1.8v1.8h-1.8zM185.7 91.1h1.8v1.8h-1.8zM197.1 91.9h1.8v1.8h-1.8zM186.7 112.1h1.8v1.8h-1.8zM177.3 112.6h1.8v1.8h-1.8zM191.6 115.6h1.8v1.8h-1.8zM179.2 110.2h1.8v1.8h-1.8zM187.7 121.1h1.8v1.8h-1.8zM167.4 103.4h1.8v1.8h-1.8zM182.0 99.3h1.8v1.8h-1.8zM191.0 96.9h1.8v1.8h-1.8zM178.9 108.0h1.8v1.8h-1.8zM185.2 99.8h1.8v1.8h-1.8zM191.3 96.9h1.8v1.8h-1.8zM186.1 100.7h1.8v1.8h-1.8zM203.3 105.3h1.8v1.8h-1.8zM182.8 94.2h1.8v1.8h-1.8zM183.6 105.5h1.8v1.8h-1.8zM183.8 105.4h1.8v1.8h-1.8zM165.6 122.1h1.8v1.8h-1.8zM170.0 108.1h1.8v1.8h-1.8zM190.7 93.4h1.8v1.8h-1.8zM182.1 107.9h1.8v1.8h-1.8zM199.3 105.8h1.8v1.8h-1.8zM184.6 94.1h1.8v1.8h-1.8zM183.7 78.2h1.8v1.8h-1.8zM195.7 111.1h1.8v1.8h-1.8zM188.1 103.4h1.8v1.8h-1.8zM201.4 97.4h1.8v1.8h-1.8zM174.8 104.7h1.8v1.8h-1.8zM189.8 116.3h1.8v1.8h-1.8zM192.2 120.3h1.8v1.8h-1.8zM190.9 100.6h1.8v1.8h-1.8zM196.9 117.9h1.8v1.8h-1.8zM195.7 103.9h1.8v1.8h-1.8zM185.8 105.3h1.8v1.8h-1.8zM179.9 104.9h1.8v1.8h-1.8zM195.3 103.8h1.8v1.8h-1.8zM186.0 103.9h1.8v1.8h-1.8zM195.2 98.2h1.8v1.8h-1.8zM199.1 104.1h1.8v1.8h-1.8zM187.7 96.0h1.8v1.8h-1.8zM176.7 111.0h1.8v1.8h-1.8zM183.2 99.6h1.8v1.8h-1.8zM193.7 108.8h1.8v1.8h-1.8zM183.5 104.3h1.8v1.8h-1.8zM197.7 88.1h1.8v1.8h-1.8zM186.3 115.7h1.8v1.8h-1.8zM187.3 107.6h1.8v1.8h-1.8zM179.7 105.1h1.8v1.8h-1.8zM185.0 102.2h1.8v1.8h-1.8zM197.0 120.2h1.8v1.8h-1.8zM182.6 103.2h1.8v1.8h-1.8zM182.7 114.0h1.8v1.8h-1.8zM178.2 107.6h1.8v1.8h-1.8zM193.8 92.5h1.8v1.8h-1.8zM170.7 112.9h1.8v1.8h-1.8zM179.4 92.0h1.8v1.8h-1.8zM195.0 108.3h1.8v1.8h-1.8zM200.1 107.5h1.8v1.8h-1.8zM183.6 107.4h1.8v1.8h-1.8zM195.4 97.5h1.8v1.8h-1.8zM166.0 119.3h1.8v1.8h-1.8zM193.3 120.2h1.8v1.8h-1.8zM188.7 96.6h1.8v1.8h-1.8zM173.5 102.7h1.8v1.8h-1.8zM167.9 121.2h1.8v1.8h-1.8zM180.7 101.6h1.8v1.8h-1.8zM188.3 113.4h1.8v1.8h-1.8zM189.4 96.0h1.8v1.8h-1.8zM186.8 99.3h1.8v1.8h-1.8zM193.4 106.7h1.8v1.8h-1.8zM192.7 108.5h1.8v1.8h-1.8zM171.8 93.3h1.8v1.8h-1.8zM181.8 96.0h1.8v1.8h-1.8zM180.6 110.1h1.8v1.8h-1.8zM195.9 115.5h1.8v1.8h-1.8zM180.7 110.1h1.8v1.8h-1.8zM195.7 107.4h1.8v1.8h-1.8zM186.6 108.9h1.8v1.8h-1.8zM185.2 108.6h1.8v1.8h-1.8zM185.7 113.1h1.8v1.8h-1.8zM184.5 110.5h1.8v1.8h-1.8zM187.1 94.5h1.8v1.8h-1.8zM180.6 115.5h1.8v1.8h-1.8zM176.9 93.4h1.8v1.8h-1.8zM183.7 95.7h1.8v1.8h-1.8zM192.3 118.6h1.8v1.8h-1.8zM175.7 97.9h1.8v1.8h-1.8zM193.6 97.8h1.8v1.8h-1.8zM193.2 110.1h1.8v1.8h-1.8zM183.9 112.2h1.8v1.8h-1.8zM183.1 103.8h1.8v1.8h-1.8zM177.7 92.9h1.8v1.8h-1.8zM182.8 100.7h1.8v1.8h-1.8zM177.6 107.2h1.8v1.8h-1.8zM198.0 95.7h1.8v1.8h-1.8zM201.8 94.9h1.8v1.8h-1.8zM182.7 116.5h1.8v1.8h-1.8zM185.1 109.9h1.8v1.8h-1.8zM166.5 113.8h1.8v1.8h-1.8zM180.2 113.6h1.8v1.8h-1.8zM188.9 95.8h1.8v1.8h-1.8zM188.2 109.2h1.8v1.8h-1.8zM186.7 115.6h1.8v1.8h-1.8zM193.9 110.4h1.8v1.8h-1.8zM186.4 94.6h1.8v1.8h-1.8zM181.6 91.5h1.8v1.8h-1.8zM201.4 96.4h1.8v1.8h-1.8zM166.3 111.7h1.8v1.8h-1.8zM173.9 104.5h1.8v1.8h-1.8zM178.0 108.2h1.8v1.8h-1.8zM178.1 94.4h1.8v1.8h-1.8zM177.6 113.2h1.8v1.8h-1.8zM183.1 98.7h1.8v1.8h-1.8zM178.2 115.8h1.8v1.8h-1.8zM184.8 104.9h1.8v1.8h-1.8zM191.2 77.8h1.8v1.8h-1.8zM185.6 103.3h1.8v1.8h-1.8zM186.6 97.1h1.8v1.8h-1.8zM175.9 98.3h1.8v1.8h-1.8zM173.9 104.7h1.8v1.8h-1.8zM182.3 114.9h1.8v1.8h-1.8zM194.5 111.8h1.8v1.8h-1.8zM189.0 117.2h1.8v1.8h-1.8zM196.1 104.1h1.8v1.8h-1.8zM195.1 87.4h1.8v1.8h-1.8zM196.4 99.0h1.8v1.8h-1.8zM177.2 97.7h1.8v1.8h-1.8zM197.5 97.8h1.8v1.8h-1.8zM192.8 128.2h1.8v1.8h-1.8zM191.1 95.9h1.8v1.8h-1.8zM188.5 115.5h1.8v1.8h-1.8zM183.9 102.5h1.8v1.8h-1.8zM186.9 92.8h1.8v1.8h-1.8zM168.8 117.0h1.8v1.8h-1.8zM182.7 101.0h1.8v1.8h-1.8zM184.8 106.2h1.8v1.8h-1.8zM195.1 124.8h1.8v1.8h-1.8zM178.7 96.6h1.8v1.8h-1.8zM186.5 114.2h1.8v1.8h-1.8zM203.4 100.6h1.8v1.8h-1.8zM180.0 95.6h1.8v1.8h-1.8zM193.6 102.0h1.8v1.8h-1.8zM179.9 107.1h1.8v1.8h-1.8zM184.2 106.8h1.8v1.8h-1.8zM189.8 90.9h1.8v1.8h-1.8zM194.0 111.8h1.8v1.8h-1.8zM180.3 97.9h1.8v1.8h-1.8zM175.1 108.7h1.8v1.8h-1.8zM200.3 105.5h1.8v1.8h-1.8zM187.1 99.9h1.8v1.8h-1.8zM193.1 109.7h1.8v1.8h-1.8zM194.3 97.8h1.8v1.8h-1.8zM192.7 95.9h1.8v1.8h-1.8zM182.6 92.6h1.8v1.8h-1.8zM183.9 88.5h1.8v1.8h-1.8zM169.8 100.2h1.8v1.8h-1.8zM187.0 85.2h1.8v1.8h-1.8zM180.6 102.2h1.8v1.8h-1.8zM185.0 100.2h1.8v1.8h-1.8zM203.7 118.1h1.8v1.8h-1.8zM192.0 94.0h1.8v1.8h-1.8zM185.8 115.2h1.8v1.8h-1.8zM171.8 109.5h1.8v1.8h-1.8zM192.4 107.0h1.8v1.8h-1.8zM200.3 98.0h1.8v1.8h-1.8zM177.1 98.3h1.8v1.8h-1.8zM189.4 101.7h1.8v1.8h-1.8zM180.1 105.0h1.8v1.8h-1.8zM183.7 110.2h1.8v1.8h-1.8zM181.6 100.7h1.8v1.8h-1.8zM169.3 120.4h1.8v1.8h-1.8zM180.2 120.5h1.8v1.8h-1.8zM169.2 84.3h1.8v1.8h-1.8zM198.9 104.9h1.8v1.8h-1.8zM195.5 103.0h1.8v1.8h-1.8zM185.7 96.1h1.8v1.8h-1.8zM188.0 80.6h1.8v1.8h-1.8zM185.8 89.4h1.8v1.8h-1.8zM187.2 103.1h1.8v1.8h-1.8zM187.1 111.0h1.8v1.8h-1.8zM182.9 109.2h1.8v1.8h-1.8zM183.6 109.7h1.8v1.8h-1.8zM172.0 104.2h1.8v1.8h-1.8zM175.4 115.0h1.8v1.8h-1.8zM179.3 109.8h1.8v1.8h-1.8zM187.3 114.9h1.8v1.8h-1.8zM181.6 104.2h1.8v1.8h-1.8zM204.0 97.4h1.8v1.8h-1.8zM183.4 91.5h1.8v1.8h-1.8zM181.7 119.2h1.8v1.8h-1.8zM189.5 99.4h1.8v1.8h-1.8zM195.3 94.8h1.8v1.8h-1.8zM203.4 84.3h1.8v1.8h-1.8zM194.8 109.3h1.8v1.8h-1.8zM179.5 93.2h1.8v1.8h-1.8zM183.6 105.8h1.8v1.8h-1.8zM195.6 106.7h1.8v1.8h-1.8zM187.8 117.6h1.8v1.8h-1.8zM193.1 97.9h1.8v1.8h-1.8zM184.5 87.7h1.8v1.8h-1.8zM201.0 111.4h1.8v1.8h-1.8zM199.5 106.1h1.8v1.8h-1.8zM196.3 98.4h1.8v1.8h-1.8zM186.8 104.6h1.8v1.8h-1.8zM169.5 123.4h1.8v1.8h-1.8zM172.1 106.8h1.8v1.8h-1.8zM188.5 98.9h1.8v1.8h-1.8zM191.7 103.8h1.8v1.8h-1.8zM180.7 108.8h1.8v1.8h-1.8zM196.6 107.1h1.8v1.8h-1.8zM194.7 107.2h1.8v1.8h-1.8zM180.5 95.0h1.8v1.8h-1.8zM191.6 109.9h1.8v1.8h-1.8zM185.7 114.4h1.8v1.8h-1.8zM183.2 111.2h1.8v1.8h-1.8zM196.3 103.5h1.8v1.8h-1.8zM196.5 103.4h1.8v1.8h-1.8zM180.3 107.3h1.8v1.8h-1.8zM176.2 106.5h1.8v1.8h-1.8zM172.6 91.5h1.8v1.8h-1.8zM171.5 105.2h1.8v1.8h-1.8zM198.4 115.2h1.8v1.8h-1.8zM203.7 100.5h1.8v1.8h-1.8zM187.5 100.2h1.8v1.8h-1.8zM195.7 109.7h1.8v1.8h-1.8zM178.8 106.6h1.8v1.8h-1.8zM184.8 99.0h1.8v1.8h-1.8zM194.4 106.0h1.8v1.8h-1.8zM188.5 120.3h1.8v1.8h-1.8zM185.1 121.7h1.8v1.8h-1.8zM169.2 108.1h1.8v1.8h-1.8zM171.3 105.1h1.8v1.8h-1.8zM181.4 116.4h1.8v1.8h-1.8zM180.1 109.9h1.8v1.8h-1.8zM184.8 110.3h1.8v1.8h-1.8zM179.3 105.3h1.8v1.8h-1.8zM183.4 93.8h1.8v1.8h-1.8zM186.1 92.3h1.8v1.8h-1.8zM190.5 104.1h1.8v1.8h-1.8zM186.1 95.5h1.8v1.8h-1.8zM180.1 113.0h1.8v1.8h-1.8zM182.8 113.9h1.8v1.8h-1.8zM194.3 117.8h1.8v1.8h-1.8zM183.5 106.5h1.8v1.8h-1.8zM176.0 123.7h1.8v1.8h-1.8zM175.6 117.7h1.8v1.8h-1.8zM188.2 108.7h1.8v1.8h-1.8zM190.9 111.8h1.8v1.8h-1.8zM197.4 99.4h1.8v1.8h-1.8zM182.3 77.4h1.8v1.8h-1.8zM198.8 113.7h1.8v1.8h-1.8zM182.0 110.2h1.8v1.8h-1.8zM183.2 120.8h1.8v1.8h-1.8zM179.9 110.4h1.8v1.8h-1.8zM190.5 103.5h1.8v1.8h-1.8zM195.6 100.2h1.8v1.8h-1.8zM185.1 100.0h1.8v1.8h-1.8zM180.5 107.4h1.8v1.8h-1.8zM170.4 90.6h1.8v1.8h-1.8zM186.8 95.3h1.8v1.8h-1.8zM182.0 113.2h1.8v1.8h-1.8zM183.4 87.3h1.8v1.8h-1.8zM179.2 91.9h1.8v1.8h-1.8zM176.8 100.8h1.8v1.8h-1.8zM181.2 102.1h1.8v1.8h-1.8zM189.7 105.6h1.8v1.8h-1.8zM194.6 112.1h1.8v1.8h-1.8zM185.2 107.9h1.8v1.8h-1.8zM188.5 110.4h1.8v1.8h-1.8zM183.4 100.2h1.8v1.8h-1.8zM184.1 105.6h1.8v1.8h-1.8zM172.0 100.1h1.8v1.8h-1.8zM193.9 103.5h1.8v1.8h-1.8zM191.1 110.0h1.8v1.8h-1.8zM199.4 108.5h1.8v1.8h-1.8zM179.4 88.9h1.8v1.8h-1.8zM186.5 94.9h1.8v1.8h-1.8zM176.3 124.0h1.8v1.8h-1.8zM187.6 86.7h1.8v1.8h-1.8zM184.1 106.0h1.8v1.8h-1.8zM191.9 94.2h1.8v1.8h-1.8zM183.9 103.5h1.8v1.8h-1.8zM191.5 99.5h1.8v1.8h-1.8zM180.6 106.3h1.8v1.8h-1.8zM191.1 94.8h1.8v1.8h-1.8zM182.4 114.9h1.8v1.8h-1.8zM181.1 125.3h1.8v1.8h-1.8zM186.2 83.2h1.8v1.8h-1.8zM188.9 97.4h1.8v1.8h-1.8zM171.7 92.9h1.8v1.8h-1.8zM170.6 107.7h1.8v1.8h-1.8zM187.2 117.7h1.8v1.8h-1.8zM184.8 117.8h1.8v1.8h-1.8zM165.6 118.9h1.8v1.8h-1.8zM168.8 108.8h1.8v1.8h-1.8zM177.9 100.9h1.8v1.8h-1.8zM188.4 115.1h1.8v1.8h-1.8zM187.3 99.6h1.8v1.8h-1.8zM195.1 97.3h1.8v1.8h-1.8zM196.7 104.9h1.8v1.8h-1.8zM171.4 104.8h1.8v1.8h-1.8zM185.0 96.9h1.8v1.8h-1.8zM195.7 105.2h1.8v1.8h-1.8zM173.2 115.1h1.8v1.8h-1.8zM171.7 101.5h1.8v1.8h-1.8zM187.3 109.4h1.8v1.8h-1.8zM196.0 113.0h1.8v1.8h-1.8zM197.5 97.2h1.8v1.8h-1.8zM168.1 106.2h1.8v1.8h-1.8zM173.6 103.1h1.8v1.8h-1.8zM184.4 121.6h1.8v1.8h-1.8zM180.2 101.2h1.8v1.8h-1.8zM188.5 106.1h1.8v1.8h-1.8zM186.7 92.5h1.8v1.8h-1.8zM202.5 95.4h1.8v1.8h-1.8zM184.8 110.7h1.8v1.8h-1.8zM187.1 102.6h1.8v1.8h-1.8zM186.1 111.9h1.8v1.8h-1.8zM196.1 104.9h1.8v1.8h-1.8zM174.6 129.7h1.8v1.8h-1.8zM189.1 102.8h1.8v1.8h-1.8zM177.9 114.5h1.8v1.8h-1.8zM171.6 100.1h1.8v1.8h-1.8zM196.9 100.3h1.8v1.8h-1.8zM190.5 91.1h1.8v1.8h-1.8zM199.0 127.7h1.8v1.8h-1.8zM187.9 86.2h1.8v1.8h-1.8zM191.8 105.8h1.8v1.8h-1.8zM186.8 101.2h1.8v1.8h-1.8zM191.0 112.0h1.8v1.8h-1.8zM181.5 100.8h1.8v1.8h-1.8zM202.1 120.9h1.8v1.8h-1.8zM176.9 116.4h1.8v1.8h-1.8zM202.2 108.7h1.8v1.8h-1.8zM183.6 110.1h1.8v1.8h-1.8zM194.0 114.3h1.8v1.8h-1.8zM186.9 109.3h1.8v1.8h-1.8zM189.9 119.5h1.8v1.8h-1.8zM200.1 112.3h1.8v1.8h-1.8zM187.0 105.2h1.8v1.8h-1.8zM176.4 110.6h1.8v1.8h-1.8zM187.9 107.5h1.8v1.8h-1.8zM191.9 116.0h1.8v1.8h-1.8zM195.2 106.0h1.8v1.8h-1.8zM196.3 93.6h1.8v1.8h-1.8zM168.3 113.6h1.8v1.8h-1.8zM184.1 108.3h1.8v1.8h-1.8zM193.7 99.3h1.8v1.8h-1.8zM174.3 122.4h1.8v1.8h-1.8zM181.5 106.6h1.8v1.8h-1.8zM182.3 95.9h1.8v1.8h-1.8zM191.1 115.8h1.8v1.8h-1.8zM196.5 103.4h1.8v1.8h-1.8zM185.3 78.2h1.8v1.8h-1.8zM186.3 109.0h1.8v1.8h-1.8zM194.7 105.0h1.8v1.8h-1.8zM191.0 106.2h1.8v1.8h-1.8zM184.6 104.2h1.8v1.8h-1.8zM198.7 97.5h1.8v1.8h-1.8zM171.7 108.3h1.8v1.8h-1.8zM187.1 90.6h1.8v1.8h-1.8zM181.5 104.7h1.8v1.8h-1.8zM180.7 114.1h1.8v1.8h-1.8zM187.6 114.7h1.8v1.8h-1.8zM186.0 101.4h1.8v1.8h-1.8zM191.9 108.1h1.8v1.8h-1.8zM189.1 101.6h1.8v1.8h-1.8zM201.8 105.9h1.8v1.8h-1.8zM195.6 98.8h1.8v1.8h-1.8zM167.3 115.3h1.8v1.8h-1.8zM186.8 97.4h1.8v1.8h-1.8zM192.9 98.9h1.8v1.8h-1.8zM179.6 96.1h1.8v1.8h-1.8zM188.5 98.4h1.8v1.8h-1.8zM181.1 103.8h1.8v1.8h-1.8zM189.3 122.3h1.8v1.8h-1.8zM169.5 109.5h1.8v1.8h-1.8zM166.4 118.2h1.8v1.8h-1.8zM180.1 106.8h1.8v1.8h-1.8zM187.7 114.2h1.8v1.8h-1.8zM198.6 95.3h1.8v1.8h-1.8zM182.8 96.0h1.8v1.8h-1.8zM178.1 123.3h1.8v1.8h-1.8zM194.5 108.5h1.8v1.8h-1.8zM185.8 91.7h1.8v1.8h-1.8zM203.3 109.7h1.8v1.8h-1.8zM184.6 104.2h1.8v1.8h-1.8zM166.3 105.2h1.8v1.8h-1.8zM177.6 114.0h1.8v1.8h-1.8zM176.0 95.7h1.8v1.8h-1.8zM171.7 118.1h1.8v1.8h-1.8zM177.8 108.9h1.8v1.8h-1.8zM178.6 102.1h1.8v1.8h-1.8zM182.6 94.0h1.8v1.8h-1.8zM180.0 122.1h1.8v1.8h-1.8zM189.4 102.1h1.8v1.8h-1.8zM189.5 93.0h1.8v1.8h-1.8zM187.1 104.2h1.8v1.8h-1.8zM187.3 109.8h1.8v1.8h-1.8zM166.8 113.0h1.8v1.8h-1.8zM168.9 120.5h1.8v1.8h-1.8zM176.7 111.6h1.8v1.8h-1.8zM187.9 105.0h1.8v1.8h-1.8zM170.9 127.2h1.8v1.8h-1.8zM181.2 124.2h1.8v1.8h-1.8zM187.8 95.4h1.8v1.8h-1.8zM205.0 112.8h1.8v1.8h-1.8zM187.9 100.2h1.8v1.8h-1.8zM180.0 119.7h1.8v1.8h-1.8zM196.1 96.3h1.8v1.8h-1.8zM187.3 108.3h1.8v1.8h-1.8zM182.3 120.3h1.8v1.8h-1.8zM196.3 107.9h1.8v1.8h-1.8zM176.2 116.5h1.8v1.8h-1.8zM187.2 99.3h1.8v1.8h-1.8zM186.0 94.6h1.8v1.8h-1.8zM194.2 94.4h1.8v1.8h-1.8zM173.9 112.4h1.8v1.8h-1.8zM172.4 101.2h1.8v1.8h-1.8zM181.3 119.4h1.8v1.8h-1.8zM182.4 103.0h1.8v1.8h-1.8zM185.6 117.9h1.8v1.8h-1.8zM181.4 109.3h1.8v1.8h-1.8zM189.4 95.7h1.8v1.8h-1.8zM191.9 105.7h1.8v1.8h-1.8zM187.3 110.1h1.8v1.8h-1.8zM174.6 111.3h1.8v1.8h-1.8zM196.5 103.9h1.8v1.8h-1.8zM169.9 117.3h1.8v1.8h-1.8zM183.0 114.7h1.8v1.8h-1.8zM193.9 113.6h1.8v1.8h-1.8zM178.9 99.4h1.8v1.8h-1.8zM197.8 85.7h1.8v1.8h-1.8zM204.0 109.4h1.8v1.8h-1.8zM200.7 97.0h1.8v1.8h-1.8zM189.3 100.6h1.8v1.8h-1.8zM194.8 102.8h1.8v1.8h-1.8zM179.9 109.2h1.8v1.8h-1.8zM189.0 89.7h1.8v1.8h-1.8zM189.5 104.3h1.8v1.8h-1.8zM185.9 118.1h1.8v1.8h-1.8zM186.5 92.6h1.8v1.8h-1.8zM182.9 103.4h1.8v1.8h-1.8zM165.5 120.7h1.8v1.8h-1.8zM189.0 113.1h1.8v1.8h-1.8zM188.1 111.2h1.8v1.8h-1.8zM192.1 92.4h1.8v1.8h-1.8zM185.7 106.9h1.8v1.8h-1.8zM193.7 96.5h1.8v1.8h-1.8zM191.2 106.5h1.8v1.8h-1.8zM184.8 99.0h1.8v1.8h-1.8zM181.2 95.6h1.8v1.8h-1.8zM170.4 107.2h1.8v1.8h-1.8zM186.2 115.4h1.8v1.8h-1.8zM201.2 100.0h1.8v1.8h-1.8zM166.5 109.3h1.8v1.8h-1.8zM175.6 113.2h1.8v1.8h-1.8zM192.5 109.9h1.8v1.8h-1.8zM186.9 94.3h1.8v1.8h-1.8zM189.2 100.5h1.8v1.8h-1.8zM166.5 110.8h1.8v1.8h-1.8zM179.2 106.6h1.8v1.8h-1.8zM190.0 121.3h1.8v1.8h-1.8zM190.9 110.7h1.8v1.8h-1.8zM188.0 97.6h1.8v1.8h-1.8zM176.2 112.8h1.8v1.8h-1.8zM190.4 115.5h1.8v1.8h-1.8zM173.1 112.8h1.8v1.8h-1.8zM175.7 111.3h1.8v1.8h-1.8zM173.4 94.2h1.8v1.8h-1.8zM199.4 104.1h1.8v1.8h-1.8zM180.9 111.6h1.8v1.8h-1.8zM185.6 102.3h1.8v1.8h-1.8zM163.1 104.8h1.8v1.8h-1.8zM195.9 108.9h1.8v1.8h-1.8zM189.6 99.6h1.8v1.8h-1.8zM168.5 99.3h1.8v1.8h-1.8zM169.0 105.8h1.8v1.8h-1.8zM201.5 103.5h1.8v1.8h-1.8zM175.6 114.3h1.8v1.8h-1.8zM203.3 102.6h1.8v1.8h-1.8zM180.3 95.8h1.8v1.8h-1.8zM196.0 97.6h1.8v1.8h-1.8zM190.0 111.9h1.8v1.8h-1.8zM191.8 99.9h1.8v1.8h-1.8zM179.9 111.4h1.8v1.8h-1.8zM182.8 108.7h1.8v1.8h-1.8zM194.5 103.1h1.8v1.8h-1.8zM176.8 95.1h1.8v1.8h-1.8zM165.3 103.9h1.8v1.8h-1.8zM194.0 117.6h1.8v1.8h-1.8zM178.8 108.0h1.8v1.8h-1.8zM197.7 115.0h1.8v1.8h-1.8zM180.1 106.8h1.8v1.8h-1.8zM180.7 106.2h1.8v1.8h-1.8zM182.4 97.3h1.8v1.8h-1.8zM161.4 111.3h1.8v1.8h-1.8zM196.7 97.1h1.8v1.8h-1.8zM178.7 98.8h1.8v1.8h-1.8zM183.0 115.2h1.8v1.8h-1.8zM199.6 95.5h1.8v1.8h-1.8zM186.1 126.2h1.8v1.8h-1.8zM193.9 104.9h1.8v1.8h-1.8zM188.3 100.4h1.8v1.8h-1.8zM192.7 117.0h1.8v1.8h-1.8zM187.7 96.7h1.8v1.8h-1.8zM196.5 105.8h1.8v1.8h-1.8zM182.9 106.2h1.8v1.8h-1.8zM189.6 113.8h1.8v1.8h-1.8zM177.9 121.9h1.8v1.8h-1.8zM196.8 107.7h1.8v1.8h-1.8zM163.2 96.1h1.8v1.8h-1.8zM186.8 93.6h1.8v1.8h-1.8zM188.6 101.0h1.8v1.8h-1.8zM188.4 112.6h1.8v1.8h-1.8zM184.9 106.9h1.8v1.8h-1.8zM198.4 106.9h1.8v1.8h-1.8zM206.1 101.0h1.8v1.8h-1.8zM179.0 118.4h1.8v1.8h-1.8zM165.9 97.3h1.8v1.8h-1.8zM174.1 123.9h1.8v1.8h-1.8zM176.9 117.1h1.8v1.8h-1.8zM183.6 112.1h1.8v1.8h-1.8zM184.4 105.5h1.8v1.8h-1.8zM195.8 102.0h1.8v1.8h-1.8zM180.7 106.0h1.8v1.8h-1.8zM184.6 100.8h1.8v1.8h-1.8zM186.1 101.8h1.8v1.8h-1.8zM176.2 99.2h1.8v1.8h-1.8zM181.8 112.8h1.8v1.8h-1.8zM212.5 104.1h1.8v1.8h-1.8zM184.0 109.7h1.8v1.8h-1.8zM175.3 99.9h1.8v1.8h-1.8zM163.2 96.5h1.8v1.8h-1.8zM195.3 96.4h1.8v1.8h-1.8zM181.7 107.9h1.8v1.8h-1.8zM178.6 95.6h1.8v1.8h-1.8zM199.3 95.8h1.8v1.8h-1.8zM167.8 103.0h1.8v1.8h-1.8zM181.5 108.0h1.8v1.8h-1.8zM194.9 93.9h1.8v1.8h-1.8zM193.3 86.2h1.8v1.8h-1.8zM173.8 116.8h1.8v1.8h-1.8zM202.7 102.3h1.8v1.8h-1.8zM203.5 98.0h1.8v1.8h-1.8zM173.9 120.7h1.8v1.8h-1.8zM167.3 126.4h1.8v1.8h-1.8zM171.0 106.8h1.8v1.8h-1.8zM191.6 107.6h1.8v1.8h-1.8zM195.7 127.9h1.8v1.8h-1.8zM186.8 99.7h1.8v1.8h-1.8zM179.0 116.7h1.8v1.8h-1.8zM184.0 114.2h1.8v1.8h-1.8zM190.6 99.8h1.8v1.8h-1.8zM172.8 97.7h1.8v1.8h-1.8zM167.9 100.0h1.8v1.8h-1.8zM184.0 106.7h1.8v1.8h-1.8zM197.2 107.4h1.8v1.8h-1.8zM186.8 128.6h1.8v1.8h-1.8zM186.8 96.1h1.8v1.8h-1.8zM178.1 107.8h1.8v1.8h-1.8zM194.1 97.6h1.8v1.8h-1.8zM167.8 114.8h1.8v1.8h-1.8zM184.2 109.4h1.8v1.8h-1.8zM178.9 94.2h1.8v1.8h-1.8zM183.3 101.6h1.8v1.8h-1.8zM175.6 106.9h1.8v1.8h-1.8zM192.3 111.4h1.8v1.8h-1.8zM184.1 110.4h1.8v1.8h-1.8zM178.9 112.2h1.8v1.8h-1.8zM189.9 105.4h1.8v1.8h-1.8zM184.3 111.1h1.8v1.8h-1.8zM179.6 106.8h1.8v1.8h-1.8zM178.9 114.9h1.8v1.8h-1.8zM192.6 110.2h1.8v1.8h-1.8zM175.4 98.6h1.8v1.8h-1.8zM182.5 105.5h1.8v1.8h-1.8zM182.1 99.1h1.8v1.8h-1.8zM187.9 104.4h1.8v1.8h-1.8zM182.8 111.0h1.8v1.8h-1.8zM167.3 106.3h1.8v1.8h-1.8zM190.7 99.8h1.8v1.8h-1.8zM184.4 119.0h1.8v1.8h-1.8zM195.8 104.8h1.8v1.8h-1.8zM168.5 98.6h1.8v1.8h-1.8zM196.9 100.4h1.8v1.8h-1.8zM170.9 115.5h1.8v1.8h-1.8zM191.6 123.3h1.8v1.8h-1.8zM189.8 116.7h1.8v1.8h-1.8zM185.0 102.8h1.8v1.8h-1.8zM177.3 114.1h1.8v1.8h-1.8zM176.5 91.6h1.8v1.8h-1.8zM185.7 113.1h1.8v1.8h-1.8zM177.2 104.4h1.8v1.8h-1.8zM165.2 109.9h1.8v1.8h-1.8zM166.6 96.4h1.8v1.8h-1.8zM192.7 108.4h1.8v1.8h-1.8zM193.0 93.6h1.8v1.8h-1.8zM189.9 90.7h1.8v1.8h-1.8zM185.2 119.1h1.8v1.8h-1.8zM188.6 94.3h1.8v1.8h-1.8zM189.7 113.6h1.8v1.8h-1.8zM187.3 100.5h1.8v1.8h-1.8zM176.9 105.5h1.8v1.8h-1.8zM177.5 106.4h1.8v1.8h-1.8zM173.3 116.7h1.8v1.8h-1.8zM186.3 109.5h1.8v1.8h-1.8zM174.9 98.7h1.8v1.8h-1.8zM183.2 101.2h1.8v1.8h-1.8zM198.0 116.4h1.8v1.8h-1.8zM181.1 118.1h1.8v1.8h-1.8zM194.6 100.6h1.8v1.8h-1.8zM200.5 112.3h1.8v1.8h-1.8zM166.6 106.7h1.8v1.8h-1.8zM170.5 116.0h1.8v1.8h-1.8zM189.6 96.3h1.8v1.8h-1.8zM177.8 113.6h1.8v1.8h-1.8zM190.3 100.2h1.8v1.8h-1.8zM192.0 93.6h1.8v1.8h-1.8zM179.8 111.5h1.8v1.8h-1.8zM193.2 110.0h1.8v1.8h-1.8zM202.4 90.7h1.8v1.8h-1.8zM194.5 84.0h1.8v1.8h-1.8zM176.2 105.3h1.8v1.8h-1.8zM183.6 109.7h1.8v1.8h-1.8zM179.7 101.2h1.8v1.8h-1.8zM200.7 104.9h1.8v1.8h-1.8zM183.1 101.9h1.8v1.8h-1.8zM178.2 101.1h1.8v1.8h-1.8zM185.5 108.9h1.8v1.8h-1.8zM190.2 116.0h1.8v1.8h-1.8zM181.3 109.9h1.8v1.8h-1.8zM186.2 102.5h1.8v1.8h-1.8zM185.1 99.2h1.8v1.8h-1.8zM192.5 106.5h1.8v1.8h-1.8zM194.9 84.8h1.8v1.8h-1.8zM187.9 106.1h1.8v1.8h-1.8zM180.5 104.8h1.8v1.8h-1.8zM189.2 104.8h1.8v1.8h-1.8zM176.3 103.7h1.8v1.8h-1.8zM195.9 102.6h1.8v1.8h-1.8zM188.7 92.0h1.8v1.8h-1.8zM187.7 110.9h1.8v1.8h-1.8zM199.8 99.5h1.8v1.8h-1.8zM198.0 90.9h1.8v1.8h-1.8zM186.6 110.7h1.8v1.8h-1.8zM192.0 102.7h1.8v1.8h-1.8zM178.5 109.3h1.8v1.8h-1.8zM192.9 119.8h1.8v1.8h-1.8zM191.4 104.4h1.8v1.8h-1.8zM186.9 110.1h1.8v1.8h-1.8zM189.0 121.5h1.8v1.8h-1.8zM175.7 103.5h1.8v1.8h-1.8zM192.0 115.7h1.8v1.8h-1.8zM172.5 106.9h1.8v1.8h-1.8zM203.9 112.7h1.8v1.8h-1.8zM193.6 105.7h1.8v1.8h-1.8zM177.1 114.7h1.8v1.8h-1.8zM164.7 100.7h1.8v1.8h-1.8zM186.7 101.0h1.8v1.8h-1.8zM190.8 99.5h1.8v1.8h-1.8zM175.8 103.6h1.8v1.8h-1.8zM202.5 113.8h1.8v1.8h-1.8zM188.5 109.1h1.8v1.8h-1.8zM181.2 111.8h1.8v1.8h-1.8zM171.8 104.8h1.8v1.8h-1.8zM184.6 106.4h1.8v1.8h-1.8zM183.9 109.4h1.8v1.8h-1.8zM192.4 108.1h1.8v1.8h-1.8zM196.4 99.6h1.8v1.8h-1.8zM186.2 102.0h1.8v1.8h-1.8zM190.5 95.6h1.8v1.8h-1.8zM200.1 110.9h1.8v1.8h-1.8zM192.1 114.4h1.8v1.8h-1.8zM183.3 122.7h1.8v1.8h-1.8zM192.1 77.4h1.8v1.8h-1.8zM180.7 113.4h1.8v1.8h-1.8zM190.4 110.2h1.8v1.8h-1.8zM186.4 129.1h1.8v1.8h-1.8zM174.9 102.4h1.8v1.8h-1.8zM191.9 98.0h1.8v1.8h-1.8zM186.7 107.3h1.8v1.8h-1.8zM193.2 91.8h1.8v1.8h-1.8zM172.6 94.0h1.8v1.8h-1.8zM197.0 109.5h1.8v1.8h-1.8zM197.4 89.4h1.8v1.8h-1.8zM182.4 95.6h1.8v1.8h-1.8zM184.9 116.0h1.8v1.8h-1.8zM186.3 110.5h1.8v1.8h-1.8zM185.6 93.7h1.8v1.8h-1.8zM194.2 117.0h1.8v1.8h-1.8zM178.7 106.6h1.8v1.8h-1.8zM174.3 103.1h1.8v1.8h-1.8zM183.3 106.7h1.8v1.8h-1.8zM181.8 116.0h1.8v1.8h-1.8zM175.7 111.2h1.8v1.8h-1.8zM176.5 98.1h1.8v1.8h-1.8zM187.3 100.2h1.8v1.8h-1.8zM197.4 111.0h1.8v1.8h-1.8zM178.2 100.3h1.8v1.8h-1.8zM187.3 96.3h1.8v1.8h-1.8zM187.7 83.6h1.8v1.8h-1.8zM190.2 112.2h1.8v1.8h-1.8zM187.0 105.0h1.8v1.8h-1.8zM196.0 102.3h1.8v1.8h-1.8zM192.4 96.6h1.8v1.8h-1.8zM179.4 100.7h1.8v1.8h-1.8zM171.9 96.1h1.8v1.8h-1.8zM172.3 107.1h1.8v1.8h-1.8zM195.9 119.5h1.8v1.8h-1.8zM187.4 100.2h1.8v1.8h-1.8zM183.0 105.4h1.8v1.8h-1.8zM187.5 119.1h1.8v1.8h-1.8zM192.3 105.4h1.8v1.8h-1.8zM181.2 119.5h1.8v1.8h-1.8zM179.1 114.8h1.8v1.8h-1.8zM175.0 114.3h1.8v1.8h-1.8zM176.8 104.4h1.8v1.8h-1.8zM177.4 101.7h1.8v1.8h-1.8zM196.9 116.0h1.8v1.8h-1.8zM188.2 106.1h1.8v1.8h-1.8zM190.9 103.7h1.8v1.8h-1.8zM179.8 86.0h1.8v1.8h-1.8zM195.9 103.0h1.8v1.8h-1.8zM169.8 128.9h1.8v1.8h-1.8zM190.1 110.6h1.8v1.8h-1.8zM192.3 120.6h1.8v1.8h-1.8zM179.6 108.0h1.8v1.8h-1.8zM175.1 93.8h1.8v1.8h-1.8zM190.6 106.3h1.8v1.8h-1.8zM178.3 122.0h1.8v1.8h-1.8zM176.4 107.9h1.8v1.8h-1.8zM185.1 102.9h1.8v1.8h-1.8zM174.1 105.0h1.8v1.8h-1.8zM184.0 95.1h1.8v1.8h-1.8zM181.0 107.1h1.8v1.8h-1.8zM194.4 113.3h1.8v1.8h-1.8zM174.8 113.4h1.8v1.8h-1.8zM186.2 95.5h1.8v1.8h-1.8zM182.6 88.4h1.8v1.8h-1.8zM183.6 102.5h1.8v1.8h-1.8zM192.9 98.0h1.8v1.8h-1.8zM184.0 96.4h1.8v1.8h-1.8zM198.3 109.7h1.8v1.8h-1.8zM188.8 101.3h1.8v1.8h-1.8zM192.7 115.0h1.8v1.8h-1.8zM180.6 106.4h1.8v1.8h-1.8zM178.2 88.4h1.8v1.8h-1.8zM183.3 84.4h1.8v1.8h-1.8zM177.6 108.8h1.8v1.8h-1.8zM185.2 96.2h1.8v1.8h-1.8zM174.7 115.0h1.8v1.8h-1.8zM185.3 104.9h1.8v1.8h-1.8zM187.0 121.1h1.8v1.8h-1.8zM203.4 103.3h1.8v1.8h-1.8zM202.5 96.8h1.8v1.8h-1.8zM190.4 86.6h1.8v1.8h-1.8zM180.3 110.0h1.8v1.8h-1.8zM191.4 102.6h1.8v1.8h-1.8zM193.5 101.5h1.8v1.8h-1.8zM183.3 129.4h1.8v1.8h-1.8zM176.8 113.0h1.8v1.8h-1.8zM167.4 98.3h1.8v1.8h-1.8zM184.9 111.1h1.8v1.8h-1.8zM204.5 89.5h1.8v1.8h-1.8zM183.2 99.5h1.8v1.8h-1.8zM189.2 112.4h1.8v1.8h-1.8zM189.0 93.0h1.8v1.8h-1.8zM190.2 104.6h1.8v1.8h-1.8zM193.0 105.0h1.8v1.8h-1.8zM165.3 108.4h1.8v1.8h-1.8zM183.8 96.4h1.8v1.8h-1.8zM189.1 92.0h1.8v1.8h-1.8zM184.4 105.0h1.8v1.8h-1.8zM197.5 109.7h1.8v1.8h-1.8zM181.6 96.4h1.8v1.8h-1.8zM194.6 111.5h1.8v1.8h-1.8zM203.0 113.4h1.8v1.8h-1.8zM182.8 108.2h1.8v1.8h-1.8zM185.7 114.2h1.8v1.8h-1.8zM182.5 114.2h1.8v1.8h-1.8zM193.1 115.3h1.8v1.8h-1.8zM164.0 109.5h1.8v1.8h-1.8zM170.8 109.1h1.8v1.8h-1.8zM182.5 108.6h1.8v1.8h-1.8zM194.2 115.2h1.8v1.8h-1.8zM191.4 100.1h1.8v1.8h-1.8zM177.3 119.3h1.8v1.8h-1.8zM201.5 95.4h1.8v1.8h-1.8zM186.6 122.7h1.8v1.8h-1.8zM179.2 111.6h1.8v1.8h-1.8zM190.8 129.1h1.8v1.8h-1.8zM198.6 106.5h1.8v1.8h-1.8zM184.9 111.5h1.8v1.8h-1.8zM170.3 92.7h1.8v1.8h-1.8zM180.0 103.4h1.8v1.8h-1.8zM186.5 107.0h1.8v1.8h-1.8zM195.0 108.3h1.8v1.8h-1.8zM175.5 112.2h1.8v1.8h-1.8zM188.2 106.5h1.8v1.8h-1.8zM173.7 105.9h1.8v1.8h-1.8zM186.3 113.8h1.8v1.8h-1.8zM172.2 93.0h1.8v1.8h-1.8zM180.9 101.8h1.8v1.8h-1.8zM170.3 113.0h1.8v1.8h-1.8zM175.8 105.6h1.8v1.8h-1.8zM169.7 117.6h1.8v1.8h-1.8zM165.9 101.1h1.8v1.8h-1.8zM197.8 100.9h1.8v1.8h-1.8zM197.4 110.0h1.8v1.8h-1.8zM190.4 120.9h1.8v1.8h-1.8zM182.0 94.1h1.8v1.8h-1.8zM200.3 88.7h1.8v1.8h-1.8zM182.8 94.8h1.8v1.8h-1.8zM189.9 93.8h1.8v1.8h-1.8zM197.0 106.7h1.8v1.8h-1.8zM187.9 113.5h1.8v1.8h-1.8zM200.5 103.8h1.8v1.8h-1.8zM184.2 107.6h1.8v1.8h-1.8zM184.2 111.1h1.8v1.8h-1.8zM187.0 108.6h1.8v1.8h-1.8zM174.1 109.0h1.8v1.8h-1.8zM175.0 108.4h1.8v1.8h-1.8zM193.5 114.9h1.8v1.8h-1.8zM168.4 96.8h1.8v1.8h-1.8zM197.1 99.9h1.8v1.8h-1.8zM188.5 107.5h1.8v1.8h-1.8zM197.6 128.6h1.8v1.8h-1.8zM193.4 96.9h1.8v1.8h-1.8zM191.8 111.8h1.8v1.8h-1.8zM203.2 97.2h1.8v1.8h-1.8zM185.0 104.0h1.8v1.8h-1.8zM184.8 98.5h1.8v1.8h-1.8zM197.1 121.2h1.8v1.8h-1.8zM179.2 109.4h1.8v1.8h-1.8zM197.2 99.9h1.8v1.8h-1.8zM192.7 113.6h1.8v1.8h-1.8zM180.8 99.6h1.8v1.8h-1.8zM173.0 109.0h1.8v1.8h-1.8zM165.5 95.2h1.8v1.8h-1.8zM170.8 109.8h1.8v1.8h-1.8zM173.7 109.6h1.8v1.8h-1.8zM194.4 97.0h1.8v1.8h-1.8zM190.5 98.1h1.8v1.8h-1.8zM187.8 89.6h1.8v1.8h-1.8zM186.6 86.3h1.8v1.8h-1.8zM181.4 103.7h1.8v1.8h-1.8zM176.5 116.3h1.8v1.8h-1.8zM178.2 110.3h1.8v1.8h-1.8zM191.6 110.0h1.8v1.8h-1.8zM196.4 104.5h1.8v1.8h-1.8zM197.5 104.1h1.8v1.8h-1.8zM185.2 105.1h1.8v1.8h-1.8zM190.7 102.0h1.8v1.8h-1.8zM184.1 116.4h1.8v1.8h-1.8zM158.7 95.2h1.8v1.8h-1.8zM199.5 94.6h1.8v1.8h-1.8zM187.8 104.6h1.8v1.8h-1.8zM185.1 92.1h1.8v1.8h-1.8zM187.6 119.1h1.8v1.8h-1.8zM186.8 107.5h1.8v1.8h-1.8zM188.0 109.0h1.8v1.8h-1.8zM186.8 101.3h1.8v1.8h-1.8zM185.9 109.9h1.8v1.8h-1.8zM191.4 99.3h1.8v1.8h-1.8zM189.2 117.3h1.8v1.8h-1.8zM187.1 99.6h1.8v1.8h-1.8zM180.6 98.5h1.8v1.8h-1.8zM179.8 92.9h1.8v1.8h-1.8zM189.7 92.4h1.8v1.8h-1.8zM187.1 117.1h1.8v1.8h-1.8zM188.3 112.8h1.8v1.8h-1.8zM183.9 120.3h1.8v1.8h-1.8zM184.1 110.9h1.8v1.8h-1.8zM193.4 113.4h1.8v1.8h-1.8zM199.6 111.0h1.8v1.8h-1.8zM189.3 101.6h1.8v1.8h-1.8zM184.8 108.2h1.8v1.8h-1.8zM174.3 115.8h1.8v1.8h-1.8zM174.2 108.7h1.8v1.8h-1.8zM186.3 97.8h1.8v1.8h-1.8zM183.3 97.8h1.8v1.8h-1.8zM184.8 133.0h1.8v1.8h-1.8zM174.6 99.7h1.8v1.8h-1.8zM184.5 100.6h1.8v1.8h-1.8zM166.2 108.8h1.8v1.8h-1.8zM173.7 106.8h1.8v1.8h-1.8zM177.7 116.3h1.8v1.8h-1.8zM191.5 102.3h1.8v1.8h-1.8zM179.4 113.0h1.8v1.8h-1.8zM176.1 108.1h1.8v1.8h-1.8zM188.2 107.1h1.8v1.8h-1.8zM184.5 105.0h1.8v1.8h-1.8zM194.7 97.9h1.8v1.8h-1.8zM188.6 101.7h1.8v1.8h-1.8zM187.5 96.0h1.8v1.8h-1.8zM183.4 102.7h1.8v1.8h-1.8zM191.9 107.0h1.8v1.8h-1.8zM177.9 109.2h1.8v1.8h-1.8zM169.9 97.7h1.8v1.8h-1.8zM194.3 98.9h1.8v1.8h-1.8zM180.4 103.9h1.8v1.8h-1.8zM185.7 118.2h1.8v1.8h-1.8zM191.4 107.7h1.8v1.8h-1.8zM195.4 108.8h1.8v1.8h-1.8zM174.6 111.8h1.8v1.8h-1.8zM197.4 100.8h1.8v1.8h-1.8zM168.0 122.9h1.8v1.8h-1.8zM189.9 104.9h1.8v1.8h-1.8zM181.5 117.4h1.8v1.8h-1.8zM176.2 110.9h1.8v1.8h-1.8zM183.8 112.3h1.8v1.8h-1.8zM168.1 119.6h1.8v1.8h-1.8zM189.2 102.1h1.8v1.8h-1.8zM196.9 92.6h1.8v1.8h-1.8zM170.8 110.5h1.8v1.8h-1.8zM178.4 106.5h1.8v1.8h-1.8zM197.1 102.9h1.8v1.8h-1.8zM188.8 106.1h1.8v1.8h-1.8zM181.8 92.6h1.8v1.8h-1.8zM199.5 104.8h1.8v1.8h-1.8zM168.2 105.1h1.8v1.8h-1.8zM182.3 109.0h1.8v1.8h-1.8zM186.0 105.2h1.8v1.8h-1.8zM181.9 103.1h1.8v1.8h-1.8zM193.0 111.1h1.8v1.8h-1.8zM168.3 117.2h1.8v1.8h-1.8zM185.5 105.1h1.8v1.8h-1.8zM177.1 99.0h1.8v1.8h-1.8zM197.1 98.7h1.8v1.8h-1.8zM195.5 115.6h1.8v1.8h-1.8zM177.6 91.5h1.8v1.8h-1.8zM174.0 107.0h1.8v1.8h-1.8zM184.6 107.9h1.8v1.8h-1.8zM176.4 110.3h1.8v1.8h-1.8zM179.3 87.9h1.8v1.8h-1.8zM189.3 106.7h1.8v1.8h-1.8zM180.4 86.0h1.8v1.8h-1.8zM203.2 98.3h1.8v1.8h-1.8zM185.7 95.8h1.8v1.8h-1.8zM179.8 86.9h1.8v1.8h-1.8zM173.8 120.6h1.8v1.8h-1.8zM179.8 101.3h1.8v1.8h-1.8zM196.1 88.4h1.8v1.8h-1.8zM190.5 93.2h1.8v1.8h-1.8zM199.4 101.0h1.8v1.8h-1.8zM198.2 108.7h1.8v1.8h-1.8zM190.6 103.3h1.8v1.8h-1.8zM178.0 93.6h1.8v1.8h-1.8zM183.5 117.9h1.8v1.8h-1.8zM185.7 106.9h1.8v1.8h-1.8zM168.4 120.1h1.8v1.8h-1.8zM188.3 116.2h1.8v1.8h-1.8zM174.6 108.0h1.8v1.8h-1.8zM184.1 116.6h1.8v1.8h-1.8zM179.8 104.0h1.8v1.8h-1.8zM190.8 113.3h1.8v1.8h-1.8zM173.0 89.3h1.8v1.8h-1.8zM184.8 94.7h1.8v1.8h-1.8zM175.7 106.6h1.8v1.8h-1.8zM182.8 98.3h1.8v1.8h-1.8zM184.0 99.3h1.8v1.8h-1.8zM188.2 99.2h1.8v1.8h-1.8zM168.8 107.2h1.8v1.8h-1.8zM188.1 114.0h1.8v1.8h-1.8zM191.1 112.8h1.8v1.8h-1.8zM210.6 100.6h1.8v1.8h-1.8zM184.3 104.5h1.8v1.8h-1.8zM179.3 110.4h1.8v1.8h-1.8zM186.4 95.0h1.8v1.8h-1.8zM158.9 107.1h1.8v1.8h-1.8zM188.5 109.6h1.8v1.8h-1.8zM200.8 107.4h1.8v1.8h-1.8zM184.8 100.8h1.8v1.8h-1.8zM184.8 97.5h1.8v1.8h-1.8zM182.7 97.0h1.8v1.8h-1.8zM186.5 117.3h1.8v1.8h-1.8zM172.6 106.3h1.8v1.8h-1.8zM200.7 92.5h1.8v1.8h-1.8zM180.5 87.3h1.8v1.8h-1.8zM180.6 105.5h1.8v1.8h-1.8zM201.8 116.9h1.8v1.8h-1.8zM185.4 102.5h1.8v1.8h-1.8zM181.0 97.4h1.8v1.8h-1.8zM201.8 110.7h1.8v1.8h-1.8zM187.1 101.9h1.8v1.8h-1.8zM194.7 102.8h1.8v1.8h-1.8zM179.6 108.0h1.8v1.8h-1.8zM167.6 103.7h1.8v1.8h-1.8zM187.1 110.8h1.8v1.8h-1.8zM199.7 111.0h1.8v1.8h-1.8zM180.7 104.6h1.8v1.8h-1.8zM189.0 99.7h1.8v1.8h-1.8zM192.6 107.1h1.8v1.8h-1.8zM188.0 82.0h1.8v1.8h-1.8zM186.1 101.1h1.8v1.8h-1.8zM193.2 99.2h1.8v1.8h-1.8zM187.5 111.2h1.8v1.8h-1.8zM180.0 95.8h1.8v1.8h-1.8zM196.0 113.5h1.8v1.8h-1.8zM193.5 102.9h1.8v1.8h-1.8zM189.2 108.2h1.8v1.8h-1.8zM192.7 115.9h1.8v1.8h-1.8zM188.2 99.2h1.8v1.8h-1.8zM185.9 107.4h1.8v1.8h-1.8zM165.5 109.5h1.8v1.8h-1.8zM189.0 104.1h1.8v1.8h-1.8zM181.1 113.7h1.8v1.8h-1.8zM181.7 117.3h1.8v1.8h-1.8zM188.2 114.7h1.8v1.8h-1.8zM185.3 103.1h1.8v1.8h-1.8zM169.3 96.2h1.8v1.8h-1.8zM181.5 114.9h1.8v1.8h-1.8zM190.0 120.0h1.8v1.8h-1.8zM191.7 110.6h1.8v1.8h-1.8zM194.2 115.1h1.8v1.8h-1.8zM174.9 107.8h1.8v1.8h-1.8zM179.2 113.6h1.8v1.8h-1.8zM189.3 117.1h1.8v1.8h-1.8zM179.5 106.3h1.8v1.8h-1.8zM187.7 116.5h1.8v1.8h-1.8zM177.2 106.2h1.8v1.8h-1.8zM191.5 97.1h1.8v1.8h-1.8zM186.3 109.2h1.8v1.8h-1.8zM191.5 103.9h1.8v1.8h-1.8zM186.0 109.8h1.8v1.8h-1.8zM177.8 111.6h1.8v1.8h-1.8zM173.5 105.3h1.8v1.8h-1.8zM186.2 109.5h1.8v1.8h-1.8zM179.6 102.4h1.8v1.8h-1.8zM170.8 114.4h1.8v1.8h-1.8zM180.3 98.2h1.8v1.8h-1.8zM193.7 92.9h1.8v1.8h-1.8zM198.2 113.8h1.8v1.8h-1.8zM193.5 87.4h1.8v1.8h-1.8zM199.5 102.1h1.8v1.8h-1.8zM182.1 104.1h1.8v1.8h-1.8zM184.4 113.2h1.8v1.8h-1.8zM176.3 104.2h1.8v1.8h-1.8zM178.1 104.1h1.8v1.8h-1.8zM202.1 87.7h1.8v1.8h-1.8zM190.3 113.6h1.8v1.8h-1.8zM192.5 95.3h1.8v1.8h-1.8zM177.3 115.9h1.8v1.8h-1.8zM195.8 95.9h1.8v1.8h-1.8zM178.4 93.6h1.8v1.8h-1.8zM195.9 115.7h1.8v1.8h-1.8zM167.1 100.8h1.8v1.8h-1.8zM176.6 107.9h1.8v1.8h-1.8zM176.8 109.6h1.8v1.8h-1.8zM168.1 115.6h1.8v1.8h-1.8zM197.2 94.8h1.8v1.8h-1.8zM196.8 104.6h1.8v1.8h-1.8zM187.2 108.8h1.8v1.8h-1.8zM194.4 103.5h1.8v1.8h-1.8zM188.6 113.1h1.8v1.8h-1.8zM183.2 97.3h1.8v1.8h-1.8zM199.7 91.9h1.8v1.8h-1.8zM193.9 114.8h1.8v1.8h-1.8zM174.4 117.1h1.8v1.8h-1.8zM187.9 88.0h1.8v1.8h-1.8zM188.9 102.8h1.8v1.8h-1.8zM174.5 105.9h1.8v1.8h-1.8zM176.4 80.4h1.8v1.8h-1.8zM179.3 100.5h1.8v1.8h-1.8zM173.8 116.3h1.8v1.8h-1.8zM191.2 95.4h1.8v1.8h-1.8zM189.0 116.4h1.8v1.8h-1.8zM163.5 124.7h1.8v1.8h-1.8zM181.7 103.9h1.8v1.8h-1.8zM187.5 98.2h1.8v1.8h-1.8zM172.3 106.8h1.8v1.8h-1.8zM183.1 92.3h1.8v1.8h-1.8zM188.8 116.2h1.8v1.8h-1.8zM168.7 111.0h1.8v1.8h-1.8zM182.7 92.5h1.8v1.8h-1.8zM193.4 101.5h1.8v1.8h-1.8zM178.3 115.5h1.8v1.8h-1.8zM171.0 113.9h1.8v1.8h-1.8zM201.8 124.7h1.8v1.8h-1.8zM198.9 109.6h1.8v1.8h-1.8zM194.4 128.5h1.8v1.8h-1.8zM176.2 94.8h1.8v1.8h-1.8zM185.6 119.5h1.8v1.8h-1.8zM174.9 121.6h1.8v1.8h-1.8zM209.2 94.1h1.8v1.8h-1.8zM184.3 108.8h1.8v1.8h-1.8zM191.0 118.7h1.8v1.8h-1.8zM188.3 122.3h1.8v1.8h-1.8zM166.3 104.3h1.8v1.8h-1.8zM186.6 112.0h1.8v1.8h-1.8zM203.0 109.1h1.8v1.8h-1.8zM192.9 118.5h1.8v1.8h-1.8zM182.2 130.9h1.8v1.8h-1.8zM190.2 125.6h1.8v1.8h-1.8zM179.8 124.0h1.8v1.8h-1.8zM201.3 102.7h1.8v1.8h-1.8zM192.4 127.6h1.8v1.8h-1.8zM188.6 126.8h1.8v1.8h-1.8zM176.9 104.4h1.8v1.8h-1.8zM172.3 92.2h1.8v1.8h-1.8zM181.3 103.8h1.8v1.8h-1.8zM177.5 111.8h1.8v1.8h-1.8zM176.9 108.3h1.8v1.8h-1.8zM192.5 117.9h1.8v1.8h-1.8zM191.4 109.9h1.8v1.8h-1.8zM175.4 130.4h1.8v1.8h-1.8zM177.5 86.6h1.8v1.8h-1.8zM192.3 110.1h1.8v1.8h-1.8zM185.7 114.4h1.8v1.8h-1.8zM190.3 99.7h1.8v1.8h-1.8zM175.5 114.0h1.8v1.8h-1.8zM176.2 135.9h1.8v1.8h-1.8zM187.1 100.8h1.8v1.8h-1.8zM184.9 115.2h1.8v1.8h-1.8zM178.0 113.6h1.8v1.8h-1.8zM190.3 64.2h1.8v1.8h-1.8zM174.8 103.6h1.8v1.8h-1.8zM196.0 113.1h1.8v1.8h-1.8zM189.2 99.6h1.8v1.8h-1.8zM176.2 109.0h1.8v1.8h-1.8zM167.1 95.5h1.8v1.8h-1.8zM187.6 133.9h1.8v1.8h-1.8zM198.2 112.4h1.8v1.8h-1.8zM184.3 107.5h1.8v1.8h-1.8zM202.4 96.1h1.8v1.8h-1.8zM193.6 122.7h1.8v1.8h-1.8zM200.8 109.5h1.8v1.8h-1.8zM164.5 125.8h1.8v1.8h-1.8zM175.4 120.8h1.8v1.8h-1.8zM185.3 90.0h1.8v1.8h-1.8zM187.0 117.1h1.8v1.8h-1.8zM182.1 75.2h1.8v1.8h-1.8zM178.6 70.9h1.8v1.8h-1.8zM155.6 110.5h1.8v1.8h-1.8zM198.6 132.5h1.8v1.8h-1.8zM193.9 116.1h1.8v1.8h-1.8zM177.6 118.9h1.8v1.8h-1.8zM184.4 96.7h1.8v1.8h-1.8zM175.6 108.6h1.8v1.8h-1.8zM197.0 114.8h1.8v1.8h-1.8zM180.8 78.7h1.8v1.8h-1.8zM199.1 95.2h1.8v1.8h-1.8zM177.3 103.2h1.8v1.8h-1.8zM171.9 124.6h1.8v1.8h-1.8zM189.5 99.5h1.8v1.8h-1.8zM175.7 133.1h1.8v1.8h-1.8zM191.1 110.3h1.8v1.8h-1.8zM197.9 105.8h1.8v1.8h-1.8zM188.1 128.3h1.8v1.8h-1.8zM203.5 94.4h1.8v1.8h-1.8zM178.7 100.5h1.8v1.8h-1.8zM173.5 92.6h1.8v1.8h-1.8zM187.7 96.9h1.8v1.8h-1.8zM182.0 76.5h1.8v1.8h-1.8zM204.7 142.4h1.8v1.8h-1.8zM169.7 140.0h1.8v1.8h-1.8zM200.9 83.4h1.8v1.8h-1.8zM173.7 83.7h1.8v1.8h-1.8zM180.9 131.4h1.8v1.8h-1.8zM177.4 106.1h1.8v1.8h-1.8zM183.3 104.2h1.8v1.8h-1.8zM198.0 86.7h1.8v1.8h-1.8zM184.0 98.2h1.8v1.8h-1.8zM208.9 136.2h1.8v1.8h-1.8zM171.5 95.1h1.8v1.8h-1.8zM186.4 130.5h1.8v1.8h-1.8zM167.5 124.1h1.8v1.8h-1.8zM171.8 128.5h1.8v1.8h-1.8zM171.7 96.7h1.8v1.8h-1.8zM179.3 122.9h1.8v1.8h-1.8zM194.2 114.1h1.8v1.8h-1.8zM203.7 146.4h1.8v1.8h-1.8zM199.0 113.2h1.8v1.8h-1.8zM201.3 121.7h1.8v1.8h-1.8zM188.8 111.8h1.8v1.8h-1.8zM177.1 116.3h1.8v1.8h-1.8zM172.2 115.8h1.8v1.8h-1.8zM184.1 109.2h1.8v1.8h-1.8zM172.2 127.4h1.8v1.8h-1.8zM168.1 117.1h1.8v1.8h-1.8zM191.2 116.2h1.8v1.8h-1.8zM172.7 125.0h1.8v1.8h-1.8zM179.9 100.6h1.8v1.8h-1.8zM190.4 113.3h1.8v1.8h-1.8zM190.7 116.0h1.8v1.8h-1.8zM180.8 136.5h1.8v1.8h-1.8zM172.1 80.4h1.8v1.8h-1.8zM191.4 96.7h1.8v1.8h-1.8zM178.6 95.9h1.8v1.8h-1.8zM181.7 110.8h1.8v1.8h-1.8zM175.8 107.0h1.8v1.8h-1.8zM189.0 82.9h1.8v1.8h-1.8zM187.0 94.6h1.8v1.8h-1.8zM171.3 85.1h1.8v1.8h-1.8zM181.4 93.9h1.8v1.8h-1.8zM171.2 126.7h1.8v1.8h-1.8zM188.5 109.6h1.8v1.8h-1.8zM198.2 98.7h1.8v1.8h-1.8zM198.1 95.2h1.8v1.8h-1.8zM177.0 106.7h1.8v1.8h-1.8zM195.7 124.7h1.8v1.8h-1.8zM187.2 127.6h1.8v1.8h-1.8zM184.8 96.1h1.8v1.8h-1.8zM177.3 104.7h1.8v1.8h-1.8zM177.0 114.6h1.8v1.8h-1.8zM163.4 96.8h1.8v1.8h-1.8zM195.0 115.8h1.8v1.8h-1.8zM189.2 120.2h1.8v1.8h-1.8zM164.1 140.4h1.8v1.8h-1.8zM180.7 107.4h1.8v1.8h-1.8zM185.9 87.7h1.8v1.8h-1.8zM194.6 106.4h1.8v1.8h-1.8zM168.2 102.0h1.8v1.8h-1.8zM159.4 129.7h1.8v1.8h-1.8zM170.0 110.2h1.8v1.8h-1.8zM169.8 104.1h1.8v1.8h-1.8zM174.7 132.8h1.8v1.8h-1.8zM193.8 97.6h1.8v1.8h-1.8zM190.6 110.8h1.8v1.8h-1.8zM177.1 125.9h1.8v1.8h-1.8zM190.8 87.6h1.8v1.8h-1.8zM175.6 89.6h1.8v1.8h-1.8zM199.9 94.0h1.8v1.8h-1.8zM183.7 115.8h1.8v1.8h-1.8zM190.3 112.0h1.8v1.8h-1.8zM184.2 109.3h1.8v1.8h-1.8zM182.1 113.0h1.8v1.8h-1.8zM177.2 85.4h1.8v1.8h-1.8zM188.7 89.5h1.8v1.8h-1.8zM190.9 108.9h1.8v1.8h-1.8zM177.6 126.6h1.8v1.8h-1.8zM191.7 104.8h1.8v1.8h-1.8zM203.2 108.6h1.8v1.8h-1.8zM190.6 130.1h1.8v1.8h-1.8zM181.7 97.5h1.8v1.8h-1.8zM187.6 108.0h1.8v1.8h-1.8zM181.2 105.3h1.8v1.8h-1.8zM187.4 136.0h1.8v1.8h-1.8zM194.3 99.6h1.8v1.8h-1.8zM179.5 97.3h1.8v1.8h-1.8zM192.7 122.2h1.8v1.8h-1.8zM205.7 149.0h1.8v1.8h-1.8zM181.2 123.8h1.8v1.8h-1.8zM174.2 130.4h1.8v1.8h-1.8zM178.8 129.9h1.8v1.8h-1.8zM192.7 116.1h1.8v1.8h-1.8zM189.2 106.2h1.8v1.8h-1.8zM176.3 138.0h1.8v1.8h-1.8zM150.1 123.4h1.8v1.8h-1.8zM190.5 92.3h1.8v1.8h-1.8zM189.8 101.8h1.8v1.8h-1.8zM189.5 109.3h1.8v1.8h-1.8zM174.9 99.3h1.8v1.8h-1.8zM155.0 114.4h1.8v1.8h-1.8zM179.1 104.8h1.8v1.8h-1.8zM174.1 105.5h1.8v1.8h-1.8zM191.6 86.7h1.8v1.8h-1.8zM195.4 91.2h1.8v1.8h-1.8zM180.3 91.0h1.8v1.8h-1.8zM194.7 117.6h1.8v1.8h-1.8zM177.4 107.8h1.8v1.8h-1.8zM194.2 105.9h1.8v1.8h-1.8zM185.5 136.2h1.8v1.8h-1.8zM178.1 99.7h1.8v1.8h-1.8zM189.6 89.3h1.8v1.8h-1.8zM186.7 96.2h1.8v1.8h-1.8zM202.8 96.6h1.8v1.8h-1.8zM183.8 113.5h1.8v1.8h-1.8zM182.9 117.7h1.8v1.8h-1.8zM203.2 123.3h1.8v1.8h-1.8zM189.7 102.2h1.8v1.8h-1.8zM188.0 116.1h1.8v1.8h-1.8zM153.4 107.5h1.8v1.8h-1.8zM166.1 114.5h1.8v1.8h-1.8zM177.7 93.4h1.8v1.8h-1.8zM203.0 131.5h1.8v1.8h-1.8zM190.4 94.7h1.8v1.8h-1.8zM178.5 96.6h1.8v1.8h-1.8zM168.7 115.4h1.8v1.8h-1.8zM194.4 132.8h1.8v1.8h-1.8zM192.3 87.7h1.8v1.8h-1.8zM179.9 112.1h1.8v1.8h-1.8zM201.0 93.1h1.8v1.8h-1.8zM176.0 102.6h1.8v1.8h-1.8zM191.8 74.8h1.8v1.8h-1.8zM170.9 94.1h1.8v1.8h-1.8zM190.8 103.4h1.8v1.8h-1.8zM171.1 106.4h1.8v1.8h-1.8zM188.3 130.9h1.8v1.8h-1.8zM212.5 110.4h1.8v1.8h-1.8zM179.9 94.2h1.8v1.8h-1.8zM203.2 136.4h1.8v1.8h-1.8zM182.3 105.1h1.8v1.8h-1.8zM168.8 102.1h1.8v1.8h-1.8zM187.9 112.9h1.8v1.8h-1.8zM195.5 133.7h1.8v1.8h-1.8zM179.8 104.0h1.8v1.8h-1.8zM175.5 133.5h1.8v1.8h-1.8zM170.6 112.6h1.8v1.8h-1.8zM226.1 105.6h1.8v1.8h-1.8zM197.1 123.4h1.8v1.8h-1.8zM180.1 118.9h1.8v1.8h-1.8zM201.9 134.4h1.8v1.8h-1.8zM203.1 99.1h1.8v1.8h-1.8zM173.0 74.6h1.8v1.8h-1.8zM185.5 119.9h1.8v1.8h-1.8zM182.1 112.9h1.8v1.8h-1.8zM193.7 104.5h1.8v1.8h-1.8zM184.6 127.2h1.8v1.8h-1.8zM196.8 74.2h1.8v1.8h-1.8zM192.8 103.1h1.8v1.8h-1.8zM178.6 129.5h1.8v1.8h-1.8zM200.2 110.9h1.8v1.8h-1.8zM192.6 126.5h1.8v1.8h-1.8zM193.2 111.5h1.8v1.8h-1.8zM180.8 91.6h1.8v1.8h-1.8zM195.7 89.0h1.8v1.8h-1.8zM181.0 112.3h1.8v1.8h-1.8zM203.3 86.1h1.8v1.8h-1.8zM191.8 131.6h1.8v1.8h-1.8zM194.5 80.3h1.8v1.8h-1.8zM193.2 103.2h1.8v1.8h-1.8zM187.0 116.1h1.8v1.8h-1.8zM196.9 105.1h1.8v1.8h-1.8zM166.9 108.7h1.8v1.8h-1.8zM190.8 100.5h1.8v1.8h-1.8zM176.3 83.3h1.8v1.8h-1.8zM189.0 109.9h1.8v1.8h-1.8zM176.8 121.7h1.8v1.8h-1.8zM169.4 96.3h1.8v1.8h-1.8zM181.8 116.6h1.8v1.8h-1.8zM164.2 86.5h1.8v1.8h-1.8zM186.6 111.2h1.8v1.8h-1.8zM195.5 91.0h1.8v1.8h-1.8zM202.8 117.8h1.8v1.8h-1.8zM191.3 85.6h1.8v1.8h-1.8zM179.8 91.2h1.8v1.8h-1.8zM183.5 103.6h1.8v1.8h-1.8zM184.5 107.7h1.8v1.8h-1.8zM202.2 100.7h1.8v1.8h-1.8zM173.6 120.8h1.8v1.8h-1.8zM179.1 109.1h1.8v1.8h-1.8zM159.0 108.1h1.8v1.8h-1.8zM202.1 130.1h1.8v1.8h-1.8zM170.2 125.1h1.8v1.8h-1.8zM169.2 114.7h1.8v1.8h-1.8zM160.4 118.1h1.8v1.8h-1.8zM189.0 80.4h1.8v1.8h-1.8zM182.0 90.1h1.8v1.8h-1.8zM180.8 141.1h1.8v1.8h-1.8zM167.4 89.0h1.8v1.8h-1.8zM178.4 124.1h1.8v1.8h-1.8zM171.1 84.8h1.8v1.8h-1.8zM197.8 87.3h1.8v1.8h-1.8zM190.1 88.7h1.8v1.8h-1.8zM185.0 83.1h1.8v1.8h-1.8zM190.6 90.9h1.8v1.8h-1.8zM188.3 85.0h1.8v1.8h-1.8zM191.8 65.1h1.8v1.8h-1.8zM192.6 79.8h1.8v1.8h-1.8zM185.1 80.8h1.8v1.8h-1.8zM192.2 77.8h1.8v1.8h-1.8zM184.8 87.5h1.8v1.8h-1.8zM202.0 85.9h1.8v1.8h-1.8zM199.3 76.3h1.8v1.8h-1.8zM194.1 68.2h1.8v1.8h-1.8zM205.7 70.8h1.8v1.8h-1.8zM197.0 73.8h1.8v1.8h-1.8zM183.1 85.5h1.8v1.8h-1.8zM163.7 88.1h1.8v1.8h-1.8zM187.3 72.1h1.8v1.8h-1.8zM195.8 87.9h1.8v1.8h-1.8zM167.5 89.4h1.8v1.8h-1.8zM195.3 68.8h1.8v1.8h-1.8zM179.6 74.4h1.8v1.8h-1.8zM181.6 78.7h1.8v1.8h-1.8zM206.3 72.5h1.8v1.8h-1.8zM200.0 62.0h1.8v1.8h-1.8zM180.8 73.1h1.8v1.8h-1.8zM200.7 61.6h1.8v1.8h-1.8zM176.5 120.4h1.8v1.8h-1.8zM177.4 143.2h1.8v1.8h-1.8zM175.1 135.1h1.8v1.8h-1.8zM178.3 149.6h1.8v1.8h-1.8zM180.7 123.1h1.8v1.8h-1.8zM176.3 133.6h1.8v1.8h-1.8zM191.9 131.9h1.8v1.8h-1.8zM178.3 140.1h1.8v1.8h-1.8zM194.1 130.6h1.8v1.8h-1.8zM170.4 128.8h1.8v1.8h-1.8zM183.5 124.3h1.8v1.8h-1.8zM192.9 130.7h1.8v1.8h-1.8zM156.0 141.3h1.8v1.8h-1.8zM176.0 135.9h1.8v1.8h-1.8zM203.9 137.5h1.8v1.8h-1.8zM177.0 136.8h1.8v1.8h-1.8zM171.6 129.8h1.8v1.8h-1.8zM171.3 123.6h1.8v1.8h-1.8zM172.9 135.4h1.8v1.8h-1.8zM165.4 134.0h1.8v1.8h-1.8zM180.4 124.9h1.8v1.8h-1.8zM179.2 122.3h1.8v1.8h-1.8zM164.8 132.2h1.8v1.8h-1.8zM191.8 132.4h1.8v1.8h-1.8zM173.5 130.9h1.8v1.8h-1.8zM176.2 137.8h1.8v1.8h-1.8zM183.2 122.5h1.8v1.8h-1.8zM179.3 139.9h1.8v1.8h-1.8zM190.5 120.6h1.8v1.8h-1.8zM195.5 139.8h1.8v1.8h-1.8zM190.0 127.8h1.8v1.8h-1.8zM177.5 124.3h1.8v1.8h-1.8zM175.9 137.2h1.8v1.8h-1.8zM163.6 140.2h1.8v1.8h-1.8zM180.6 130.5h1.8v1.8h-1.8zM196.3 135.5h1.8v1.8h-1.8zM185.6 131.9h1.8v1.8h-1.8zM172.8 124.3h1.8v1.8h-1.8zM182.9 134.2h1.8v1.8h-1.8zM175.2 127.8h1.8v1.8h-1.8zM172.9 124.7h1.8v1.8h-1.8zM196.3 137.2h1.8v1.8h-1.8zM168.5 130.6h1.8v1.8h-1.8zM185.6 123.4h1.8v1.8h-1.8zM179.2 136.5h1.8v1.8h-1.8zM178.1 125.0h1.8v1.8h-1.8zM176.7 136.5h1.8v1.8h-1.8zM198.9 140.4h1.8v1.8h-1.8zM168.3 138.8h1.8v1.8h-1.8zM163.2 161.8h1.8v1.8h-1.8zM167.9 134.9h1.8v1.8h-1.8zM180.9 144.9h1.8v1.8h-1.8zM190.5 136.3h1.8v1.8h-1.8zM169.5 151.8h1.8v1.8h-1.8zM176.4 132.4h1.8v1.8h-1.8zM179.8 127.0h1.8v1.8h-1.8zM173.3 129.3h1.8v1.8h-1.8zM181.5 149.7h1.8v1.8h-1.8zM178.2 123.4h1.8v1.8h-1.8zM175.5 145.8h1.8v1.8h-1.8zM190.4 128.3h1.8v1.8h-1.8zM186.1 145.0h1.8v1.8h-1.8zM182.8 132.0h1.8v1.8h-1.8zM170.5 132.3h1.8v1.8h-1.8zM182.8 126.1h1.8v1.8h-1.8zM181.3 125.4h1.8v1.8h-1.8zM197.2 124.3h1.8v1.8h-1.8zM171.6 138.7h1.8v1.8h-1.8zM177.8 123.0h1.8v1.8h-1.8zM179.7 143.3h1.8v1.8h-1.8zM181.8 138.4h1.8v1.8h-1.8zM192.2 142.5h1.8v1.8h-1.8zM170.5 144.4h1.8v1.8h-1.8zM190.0 136.4h1.8v1.8h-1.8zM183.4 122.6h1.8v1.8h-1.8zM164.2 141.8h1.8v1.8h-1.8zM178.2 123.0h1.8v1.8h-1.8zM197.7 144.9h1.8v1.8h-1.8zM185.6 120.5h1.8v1.8h-1.8zM166.9 135.6h1.8v1.8h-1.8zM188.1 131.6h1.8v1.8h-1.8zM174.9 154.9h1.8v1.8h-1.8zM192.4 156.2h1.8v1.8h-1.8zM178.3 121.1h1.8v1.8h-1.8zM164.1 123.0h1.8v1.8h-1.8zM174.9 130.4h1.8v1.8h-1.8zM189.7 126.6h1.8v1.8h-1.8zM175.9 127.0h1.8v1.8h-1.8zM179.9 129.2h1.8v1.8h-1.8zM163.2 142.0h1.8v1.8h-1.8zM175.2 147.6h1.8v1.8h-1.8zM178.1 138.2h1.8v1.8h-1.8zM181.4 132.9h1.8v1.8h-1.8zM171.0 130.4h1.8v1.8h-1.8zM179.9 124.9h1.8v1.8h-1.8zM178.4 132.4h1.8v1.8h-1.8zM172.0 132.3h1.8v1.8h-1.8zM196.0 124.9h1.8v1.8h-1.8zM193.2 133.9h1.8v1.8h-1.8zM178.6 123.6h1.8v1.8h-1.8zM187.3 146.9h1.8v1.8h-1.8zM172.4 129.2h1.8v1.8h-1.8zM187.5 138.6h1.8v1.8h-1.8zM175.4 123.2h1.8v1.8h-1.8zM172.1 120.4h1.8v1.8h-1.8zM182.5 132.4h1.8v1.8h-1.8zM185.5 125.3h1.8v1.8h-1.8zM186.1 135.4h1.8v1.8h-1.8zM189.1 127.3h1.8v1.8h-1.8zM181.0 141.4h1.8v1.8h-1.8zM188.6 131.6h1.8v1.8h-1.8zM190.5 125.8h1.8v1.8h-1.8zM182.3 145.6h1.8v1.8h-1.8zM190.4 134.1h1.8v1.8h-1.8zM186.5 131.5h1.8v1.8h-1.8zM192.6 55.3h1.8v1.8h-1.8zM185.4 61.4h1.8v1.8h-1.8zM194.8 63.1h1.8v1.8h-1.8zM199.7 62.3h1.8v1.8h-1.8zM203.4 59.4h1.8v1.8h-1.8zM207.3 67.2h1.8v1.8h-1.8zM196.1 69.2h1.8v1.8h-1.8zM179.5 67.0h1.8v1.8h-1.8zM174.0 68.0h1.8v1.8h-1.8zM168.7 71.0h1.8v1.8h-1.8zM167.1 74.9h1.8v1.8h-1.8zM174.2 73.9h1.8v1.8h-1.8zM178.1 71.9h1.8v1.8h-1.8zM182.4 71.0h1.8v1.8h-1.8zM198.1 71.6h1.8v1.8h-1.8zM201.1 75.5h1.8v1.8h-1.8zM205.4 72.9h1.8v1.8h-1.8zM218.1 77.1h1.8v1.8h-1.8zM220.7 89.6h1.8v1.8h-1.8zM149.7 79.4h1.8v1.8h-1.8zM162.2 91.7h1.8v1.8h-1.8zM153.8 152.1h1.8v1.8h-1.8zM159.7 150.5h1.8v1.8h-1.8zM179.3 151.5h1.8v1.8h-1.8zM179.3 156.4h1.8v1.8h-1.8zM186.1 153.4h1.8v1.8h-1.8zM191.1 154.0h1.8v1.8h-1.8zM195.4 163.2h1.8v1.8h-1.8zM119.1 158.1h1.8v1.8h-1.8zM138.3 137.1h1.8v1.8h-1.8zM67.6 139.5h1.8v1.8h-1.8zM78.4 147.6h1.8v1.8h-1.8zM69.9 157.1h1.8v1.8h-1.8zM118.8 157.9h1.8v1.8h-1.8z" fill="#000"/>
<path d="M128.4 101.4h1.8v1.8h-1.8zM129.6 140.6h1.8v1.8h-1.8zM130.3 144.5h1.8v1.8h-1.8zM135.3 150.3h1.8v1.8h-1.8zM139.1 150.3h1.8v1.8h-1.8zM136.9 145.1h1.8v1.8h-1.8zM138.3 78.7h1.8v1.8h-1.8zM128.7 101.1h1.8v1.8h-1.8zM143.8 104.4h1.8v1.8h-1.8zM138.3 110.5h1.8v1.8h-1.8zM165.5 124.1h1.8v1.8h-1.8zM159.1 124.4h1.8v1.8h-1.8zM152.6 141.2h1.8v1.8h-1.8zM160.9 122.9h1.8v1.8h-1.8zM154.1 110.8h1.8v1.8h-1.8zM143.9 116.5h1.8v1.8h-1.8zM166.1 135.0h1.8v1.8h-1.8zM146.9 106.7h1.8v1.8h-1.8zM148.4 112.4h1.8v1.8h-1.8zM160.0 115.8h1.8v1.8h-1.8zM131.5 126.3h1.8v1.8h-1.8zM160.2 130.2h1.8v1.8h-1.8zM164.3 109.8h1.8v1.8h-1.8zM134.3 101.7h1.8v1.8h-1.8zM144.8 111.2h1.8v1.8h-1.8zM161.7 130.4h1.8v1.8h-1.8zM141.5 140.3h1.8v1.8h-1.8zM137.9 122.4h1.8v1.8h-1.8zM147.2 153.9h1.8v1.8h-1.8zM167.6 139.2h1.8v1.8h-1.8zM155.0 134.3h1.8v1.8h-1.8zM143.3 138.9h1.8v1.8h-1.8zM162.3 142.0h1.8v1.8h-1.8zM156.3 116.6h1.8v1.8h-1.8zM145.5 98.5h1.8v1.8h-1.8zM143.8 123.1h1.8v1.8h-1.8zM147.8 132.6h1.8v1.8h-1.8zM139.7 129.1h1.8v1.8h-1.8zM146.2 127.6h1.8v1.8h-1.8zM155.9 114.0h1.8v1.8h-1.8zM142.2 123.0h1.8v1.8h-1.8zM147.5 122.0h1.8v1.8h-1.8zM148.0 115.2h1.8v1.8h-1.8zM149.7 150.2h1.8v1.8h-1.8zM144.3 117.5h1.8v1.8h-1.8zM155.3 120.2h1.8v1.8h-1.8zM163.1 153.8h1.8v1.8h-1.8zM138.3 114.5h1.8v1.8h-1.8zM145.7 115.8h1.8v1.8h-1.8zM149.6 121.0h1.8v1.8h-1.8zM162.9 106.8h1.8v1.8h-1.8zM149.8 131.9h1.8v1.8h-1.8zM145.9 116.4h1.8v1.8h-1.8zM159.9 128.2h1.8v1.8h-1.8zM149.4 139.0h1.8v1.8h-1.8zM140.4 111.5h1.8v1.8h-1.8zM153.6 116.2h1.8v1.8h-1.8zM152.2 99.3h1.8v1.8h-1.8zM144.8 132.8h1.8v1.8h-1.8zM134.3 111.8h1.8v1.8h-1.8zM145.7 133.4h1.8v1.8h-1.8zM155.1 122.1h1.8v1.8h-1.8zM154.5 115.3h1.8v1.8h-1.8zM136.1 106.6h1.8v1.8h-1.8zM139.4 137.7h1.8v1.8h-1.8z" fill="#ff2010"/>
<path d="M207.4 55.3h1.8v1.8h-1.8zM222.1 52.9h1.8v1.8h-1.8zM231.6 63.8h1.8v1.8h-1.8zM215.1 67.1h1.8v1.8h-1.8zM201.6 78.4h1.8v1.8h-1.8zM202.4 81.4h1.8v1.8h-1.8zM208.9 84.3h1.8v1.8h-1.8zM210.5 87.2h1.8v1.8h-1.8zM216.7 89.2h1.8v1.8h-1.8zM208.5 91.2h1.8v1.8h-1.8zM235.7 112.7h1.8v1.8h-1.8zM226.1 124.7h1.8v1.8h-1.8zM213.7 146.6h1.8v1.8h-1.8zM223.1 132.9h1.8v1.8h-1.8zM203.6 125.4h1.8v1.8h-1.8zM214.9 96.9h1.8v1.8h-1.8zM208.6 104.5h1.8v1.8h-1.8zM226.3 112.5h1.8v1.8h-1.8zM207.3 91.8h1.8v1.8h-1.8zM212.5 113.2h1.8v1.8h-1.8zM209.6 106.2h1.8v1.8h-1.8zM218.1 104.5h1.8v1.8h-1.8zM215.7 101.2h1.8v1.8h-1.8zM203.9 110.1h1.8v1.8h-1.8zM214.8 104.7h1.8v1.8h-1.8zM208.7 92.0h1.8v1.8h-1.8zM211.0 109.6h1.8v1.8h-1.8zM216.9 129.1h1.8v1.8h-1.8zM211.2 115.3h1.8v1.8h-1.8zM208.7 105.7h1.8v1.8h-1.8zM207.6 108.2h1.8v1.8h-1.8zM208.5 92.8h1.8v1.8h-1.8zM213.5 125.0h1.8v1.8h-1.8zM201.3 120.7h1.8v1.8h-1.8zM211.9 114.8h1.8v1.8h-1.8zM217.3 104.4h1.8v1.8h-1.8zM219.0 122.3h1.8v1.8h-1.8zM206.3 93.9h1.8v1.8h-1.8zM211.5 106.2h1.8v1.8h-1.8zM211.3 102.0h1.8v1.8h-1.8zM213.2 134.3h1.8v1.8h-1.8zM202.6 113.3h1.8v1.8h-1.8zM206.6 125.8h1.8v1.8h-1.8zM220.5 95.3h1.8v1.8h-1.8zM233.6 97.1h1.8v1.8h-1.8zM214.2 97.4h1.8v1.8h-1.8zM216.0 118.9h1.8v1.8h-1.8zM214.5 112.0h1.8v1.8h-1.8zM211.2 91.3h1.8v1.8h-1.8zM217.7 103.8h1.8v1.8h-1.8zM207.7 121.3h1.8v1.8h-1.8zM222.8 109.0h1.8v1.8h-1.8zM210.1 118.0h1.8v1.8h-1.8z" fill="#1040ff"/>
<rect x="36.8" y="37.0" width="221.0" height="141.0" fill="none" stroke="#141414" stroke-width="1.5"/>
<line x1="33.2" y1="37" x2="36.8" y2="37" stroke="#141414" stroke-width="1.5" />
<text x="31.2" y="40.95" font-size="11.2" text-anchor="end" font-weight="normal" fill="#141414" stroke="#141414" letter-spacing="-0.05" >10</text>
<line x1="33.2" y1="72.25" x2="36.8" y2="72.25" stroke="#141414" stroke-width="1.5" />
<text x="31.2" y="76.2" font-size="11.2" text-anchor="end" font-weight="normal" fill="#141414" stroke="#141414" letter-spacing="-0.05" >5</text>
<line x1="33.2" y1="107.5" x2="36.8" y2="107.5" stroke="#141414" stroke-width="1.5" />
<text x="31.2" y="111.45" font-size="11.2" text-anchor="end" font-weight="normal" fill="#141414" stroke="#141414" letter-spacing="-0.05" >0</text>
<line x1="33.2" y1="142.75" x2="36.8" y2="142.75" stroke="#141414" stroke-width="1.5" />
<text x="31.2" y="146.7" font-size="11.2" text-anchor="end" font-weight="normal" fill="#141414" stroke="#141414" letter-spacing="-0.05" >-5</text>
<line x1="33.2" y1="178" x2="36.8" y2="178" stroke="#141414" stroke-width="1.5" />
<text x="31.2" y="181.95" font-size="11.2" text-anchor="end" font-weight="normal" fill="#141414" stroke="#141414" letter-spacing="-0.05" >-10</text>
<line x1="36.8" y1="178" x2="36.8" y2="181.8" stroke="#141414" stroke-width="1.5" />
<text x="36.7" y="194.8" font-size="11.2" text-anchor="middle" font-weight="normal" fill="#141414" stroke="#141414" letter-spacing="0.25" >-4</text>
<line x1="73.63" y1="178" x2="73.63" y2="181.8" stroke="#141414" stroke-width="1.5" />
<text x="73.53" y="194.8" font-size="11.2" text-anchor="middle" font-weight="normal" fill="#141414" stroke="#141414" letter-spacing="0.25" >-3</text>
<line x1="110.47" y1="178" x2="110.47" y2="181.8" stroke="#141414" stroke-width="1.5" />
<text x="110.37" y="194.8" font-size="11.2" text-anchor="middle" font-weight="normal" fill="#141414" stroke="#141414" letter-spacing="0.25" >-2</text>
<line x1="147.3" y1="178" x2="147.3" y2="181.8" stroke="#141414" stroke-width="1.5" />
<text x="147.2" y="194.8" font-size="11.2" text-anchor="middle" font-weight="normal" fill="#141414" stroke="#141414" letter-spacing="0.25" >-1</text>
<line x1="184.13" y1="178" x2="184.13" y2="181.8" stroke="#141414" stroke-width="1.5" />
<text x="184.23" y="194.8" font-size="11.2" text-anchor="middle" font-weight="normal" fill="#141414" stroke="#141414" >0</text>
<line x1="220.97" y1="178" x2="220.97" y2="181.8" stroke="#141414" stroke-width="1.5" />
<text x="221.07" y="194.8" font-size="11.2" text-anchor="middle" font-weight="normal" fill="#141414" stroke="#141414" >1</text>
<line x1="257.8" y1="178" x2="257.8" y2="181.8" stroke="#141414" stroke-width="1.5" />
<text x="257.9" y="194.8" font-size="11.2" text-anchor="middle" font-weight="normal" fill="#141414" stroke="#141414" >2</text>
<text x="69.8" y="215" font-size="11.5" text-anchor="start" font-weight="bold" fill="#141414" stroke="#141414" letter-spacing="0.75" ><tspan font-weight="normal">Δ</tspan>GSI (12h TGFβ vs veh)</text>
<text transform="translate(8.6,108.1) rotate(-90)" font-size="11.3" letter-spacing="0.82" text-anchor="middle" font-weight="bold" fill="#141414" stroke="#141414">Log<tspan font-size="8" dy="2">2</tspan><tspan dy="-2">(FC 2h TGFβ vs veh)</tspan></text>
<circle cx="43.6" cy="51.6" r="2.2" fill="#ff1010"/>
<circle cx="43.6" cy="68.7" r="2.2" fill="#0a28fa"/>
<text x="49.3" y="54.9" font-size="11.2" text-anchor="start" font-weight="bold" fill="#141414" stroke="#141414" letter-spacing="0.75" ><tspan font-weight="normal">Δ</tspan>GSI ≤ - 0.5</text>
<text x="49.1" y="70.4" font-size="11.2" text-anchor="start" font-weight="bold" fill="#141414" stroke="#141414" letter-spacing="0.84" ><tspan font-weight="normal">Δ</tspan>GSI ≥ 0.5</text>
<text x="84.6" y="96.2" font-size="9.5" text-anchor="start" font-weight="normal" fill="#f03222" stroke="#f03222" letter-spacing="0.1" >n = 65</text>
<text x="218.9" y="161.9" font-size="9.5" text-anchor="start" font-weight="normal" fill="#2a52f0" stroke="#2a52f0" letter-spacing="0.2" >n = 53</text>
<rect x="288.2" y="37.0" width="55.0" height="141.0" fill="none" stroke="#141414" stroke-width="1.5"/>
<line x1="284.4" y1="37" x2="288.2" y2="37" stroke="#141414" stroke-width="1.5" />
<text x="282.5" y="40.95" font-size="11.2" text-anchor="end" font-weight="normal" fill="#141414" stroke="#141414" letter-spacing="-0.05" >10</text>
<line x1="284.4" y1="72.25" x2="288.2" y2="72.25" stroke="#141414" stroke-width="1.5" />
<text x="282.5" y="76.2" font-size="11.2" text-anchor="end" font-weight="normal" fill="#141414" stroke="#141414" letter-spacing="-0.05" >5</text>
<line x1="284.4" y1="107.5" x2="288.2" y2="107.5" stroke="#141414" stroke-width="1.5" />
<text x="282.5" y="111.45" font-size="11.2" text-anchor="end" font-weight="normal" fill="#141414" stroke="#141414" letter-spacing="-0.05" >0</text>
<line x1="284.4" y1="142.75" x2="288.2" y2="142.75" stroke="#141414" stroke-width="1.5" />
<text x="282.5" y="146.7" font-size="11.2" text-anchor="end" font-weight="normal" fill="#141414" stroke="#141414" letter-spacing="-0.05" >-5</text>
<line x1="284.4" y1="178" x2="288.2" y2="178" stroke="#141414" stroke-width="1.5" />
<text x="282.5" y="181.95" font-size="11.2" text-anchor="end" font-weight="normal" fill="#141414" stroke="#141414" letter-spacing="-0.05" >-10</text>
<line x1="302" y1="178" x2="302" y2="181.8" stroke="#141414" stroke-width="1.5" />
<line x1="330" y1="178" x2="330" y2="181.8" stroke="#141414" stroke-width="1.5" />
<line x1="301.9" y1="101.3" x2="301.9" y2="112.9" stroke="#141414" stroke-width="1.4" />
<line x1="301.9" y1="136.9" x2="301.9" y2="148.5" stroke="#141414" stroke-width="1.4" />
<line x1="297.7" y1="101.3" x2="306.3" y2="101.3" stroke="#141414" stroke-width="1.4" />
<line x1="297.7" y1="148.5" x2="306.3" y2="148.5" stroke="#141414" stroke-width="1.4" />
<rect x="293.54999999999995" y="113.55000000000001" width="16.7" height="22.7" fill="#fa1e0a" stroke="#141414" stroke-width="1.3"/>
<line x1="293.55" y1="125.3" x2="310.25" y2="125.3" stroke="#141414" stroke-width="1.4" />
<line x1="329.75" y1="62.1" x2="329.75" y2="96" stroke="#141414" stroke-width="1.4" />
<line x1="329.75" y1="112.9" x2="329.75" y2="134" stroke="#141414" stroke-width="1.4" />
<line x1="324.2" y1="62.1" x2="333.9" y2="62.1" stroke="#141414" stroke-width="1.4" />
<line x1="324.2" y1="134" x2="333.9" y2="134" stroke="#141414" stroke-width="1.4" />
<rect x="321.25" y="96.65" width="16.999999999999954" height="15.600000000000005" fill="#0a3cfa" stroke="#141414" stroke-width="1.3"/>
<line x1="321.25" y1="104.1" x2="338.25" y2="104.1" stroke="#141414" stroke-width="1.4" />
<text x="294.96" y="48" font-size="10" text-anchor="start" font-weight="normal" fill="#141414" stroke="#141414" letter-spacing="-0.156" >2.27x10<tspan font-size="6.3" dy="-3.0">-9</tspan></text>
<text transform="translate(301.2,193.6) rotate(-42)" font-size="12.2" letter-spacing="0.72" text-anchor="end" font-weight="bold" fill="#141414" stroke="#141414">Decreased GSI</text>
<text transform="translate(333.7,193.6) rotate(-42)" font-size="12.2" letter-spacing="0.72" text-anchor="end" font-weight="bold" fill="#141414" stroke="#141414">Increased GSI</text>
<path d="M425.8 143.5L460.6 111.5L494.8 138.0M425.8 122.9L460.6 135.3L494.8 124.3M425.8 164.6L460.6 180.7L494.8 193.6M425.8 148.7L460.6 136.1L494.8 161.8M425.8 117.9L460.6 115.9L494.8 147.7M425.8 94.1L460.6 86.0L494.8 115.7M425.8 114.4L460.6 104.4L494.8 158.0M425.8 140.8L460.6 157.7L494.8 179.9M425.8 125.7L460.6 154.2L494.8 173.2M425.8 89.3L460.6 78.2L494.8 105.9M425.8 106.9L460.6 98.1L494.8 114.0M425.8 92.0L460.6 83.9L494.8 109.2M425.8 78.0L460.6 62.6L494.8 95.0M425.8 154.1L460.6 162.4L494.8 154.8M425.8 113.4L460.6 110.3L494.8 144.2M425.8 119.8L460.6 113.4L494.8 141.9M425.8 123.7L460.6 124.5L494.8 131.8M425.8 115.0L460.6 101.6L494.8 132.9M425.8 98.9L460.6 122.0L494.8 136.5M425.8 115.6L460.6 132.6L494.8 141.1M425.8 157.9L460.6 172.7L494.8 186.4M425.8 118.5L460.6 138.9L494.8 166.8M425.8 150.6L460.6 163.9L494.8 156.8M425.8 120.4L460.6 128.4L494.8 134.0M425.8 134.4L460.6 143.2L494.8 182.3M425.8 146.9L460.6 107.9L494.8 128.4M425.8 108.6L460.6 96.4L494.8 129.5M425.8 132.4L460.6 119.8L494.8 135.7M425.8 124.8L460.6 114.1L494.8 139.1M425.8 148.0L460.6 127.1L494.8 126.1M425.8 151.9L460.6 134.6L494.8 167.8M425.8 144.9L460.6 133.9L494.8 153.7M425.8 121.7L460.6 144.6L494.8 171.0M425.8 96.3L460.6 109.5L494.8 137.1M425.8 122.2L460.6 137.2L494.8 152.8M425.8 97.5L460.6 118.8L494.8 122.1M425.8 155.2L460.6 161.0L494.8 181.0M425.8 131.0L460.6 95.1L494.8 123.2M425.8 144.2L460.6 159.2L494.8 170.1M425.8 138.5L460.6 156.4L494.8 174.6M425.8 137.6L460.6 139.9L494.8 169.0M425.8 133.4L460.6 146.6L494.8 177.5M425.8 117.0L460.6 126.2L494.8 150.5M425.8 151.3L460.6 150.0L494.8 175.5M425.8 157.1L460.6 168.0L494.8 183.6M425.8 149.6L460.6 152.9L494.8 171.8M425.8 101.4L460.6 93.3L494.8 112.8M425.8 127.9L460.6 141.4L494.8 163.2M425.8 142.3L460.6 165.1L494.8 178.6M425.8 105.1L460.6 130.0L494.8 145.9M425.8 159.8L460.6 176.7L494.8 188.9M425.8 86.7L460.6 89.3L494.8 117.9" fill="none" stroke="#a9a9a9" stroke-width="0.6"/>
<path d="M424.2 143.5a1.6 1.6 0 1 0 3.2 0a1.6 1.6 0 1 0 -3.2 0M424.2 122.9a1.6 1.6 0 1 0 3.2 0a1.6 1.6 0 1 0 -3.2 0M424.2 164.6a1.6 1.6 0 1 0 3.2 0a1.6 1.6 0 1 0 -3.2 0M424.2 148.7a1.6 1.6 0 1 0 3.2 0a1.6 1.6 0 1 0 -3.2 0M424.2 117.9a1.6 1.6 0 1 0 3.2 0a1.6 1.6 0 1 0 -3.2 0M424.2 94.1a1.6 1.6 0 1 0 3.2 0a1.6 1.6 0 1 0 -3.2 0M424.2 114.4a1.6 1.6 0 1 0 3.2 0a1.6 1.6 0 1 0 -3.2 0M424.2 140.8a1.6 1.6 0 1 0 3.2 0a1.6 1.6 0 1 0 -3.2 0M424.2 125.7a1.6 1.6 0 1 0 3.2 0a1.6 1.6 0 1 0 -3.2 0M424.2 89.3a1.6 1.6 0 1 0 3.2 0a1.6 1.6 0 1 0 -3.2 0M424.2 106.9a1.6 1.6 0 1 0 3.2 0a1.6 1.6 0 1 0 -3.2 0M424.2 92.0a1.6 1.6 0 1 0 3.2 0a1.6 1.6 0 1 0 -3.2 0M424.2 78.0a1.6 1.6 0 1 0 3.2 0a1.6 1.6 0 1 0 -3.2 0M424.2 154.1a1.6 1.6 0 1 0 3.2 0a1.6 1.6 0 1 0 -3.2 0M424.2 113.4a1.6 1.6 0 1 0 3.2 0a1.6 1.6 0 1 0 -3.2 0M424.2 119.8a1.6 1.6 0 1 0 3.2 0a1.6 1.6 0 1 0 -3.2 0M424.2 123.7a1.6 1.6 0 1 0 3.2 0a1.6 1.6 0 1 0 -3.2 0M424.2 115.0a1.6 1.6 0 1 0 3.2 0a1.6 1.6 0 1 0 -3.2 0M424.2 98.9a1.6 1.6 0 1 0 3.2 0a1.6 1.6 0 1 0 -3.2 0M424.2 115.6a1.6 1.6 0 1 0 3.2 0a1.6 1.6 0 1 0 -3.2 0M424.2 157.9a1.6 1.6 0 1 0 3.2 0a1.6 1.6 0 1 0 -3.2 0M424.2 118.5a1.6 1.6 0 1 0 3.2 0a1.6 1.6 0 1 0 -3.2 0M424.2 150.6a1.6 1.6 0 1 0 3.2 0a1.6 1.6 0 1 0 -3.2 0M424.2 120.4a1.6 1.6 0 1 0 3.2 0a1.6 1.6 0 1 0 -3.2 0M424.2 134.4a1.6 1.6 0 1 0 3.2 0a1.6 1.6 0 1 0 -3.2 0M424.2 146.9a1.6 1.6 0 1 0 3.2 0a1.6 1.6 0 1 0 -3.2 0M424.2 108.6a1.6 1.6 0 1 0 3.2 0a1.6 1.6 0 1 0 -3.2 0M424.2 132.4a1.6 1.6 0 1 0 3.2 0a1.6 1.6 0 1 0 -3.2 0M424.2 124.8a1.6 1.6 0 1 0 3.2 0a1.6 1.6 0 1 0 -3.2 0M424.2 148.0a1.6 1.6 0 1 0 3.2 0a1.6 1.6 0 1 0 -3.2 0M424.2 151.9a1.6 1.6 0 1 0 3.2 0a1.6 1.6 0 1 0 -3.2 0M424.2 144.9a1.6 1.6 0 1 0 3.2 0a1.6 1.6 0 1 0 -3.2 0M424.2 121.7a1.6 1.6 0 1 0 3.2 0a1.6 1.6 0 1 0 -3.2 0M424.2 96.3a1.6 1.6 0 1 0 3.2 0a1.6 1.6 0 1 0 -3.2 0M424.2 122.2a1.6 1.6 0 1 0 3.2 0a1.6 1.6 0 1 0 -3.2 0M424.2 97.5a1.6 1.6 0 1 0 3.2 0a1.6 1.6 0 1 0 -3.2 0M424.2 155.2a1.6 1.6 0 1 0 3.2 0a1.6 1.6 0 1 0 -3.2 0M424.2 131.0a1.6 1.6 0 1 0 3.2 0a1.6 1.6 0 1 0 -3.2 0M424.2 144.2a1.6 1.6 0 1 0 3.2 0a1.6 1.6 0 1 0 -3.2 0M424.2 138.5a1.6 1.6 0 1 0 3.2 0a1.6 1.6 0 1 0 -3.2 0M424.2 137.6a1.6 1.6 0 1 0 3.2 0a1.6 1.6 0 1 0 -3.2 0M424.2 133.4a1.6 1.6 0 1 0 3.2 0a1.6 1.6 0 1 0 -3.2 0M424.2 117.0a1.6 1.6 0 1 0 3.2 0a1.6 1.6 0 1 0 -3.2 0M424.2 151.3a1.6 1.6 0 1 0 3.2 0a1.6 1.6 0 1 0 -3.2 0M424.2 157.1a1.6 1.6 0 1 0 3.2 0a1.6 1.6 0 1 0 -3.2 0M424.2 149.6a1.6 1.6 0 1 0 3.2 0a1.6 1.6 0 1 0 -3.2 0M424.2 101.4a1.6 1.6 0 1 0 3.2 0a1.6 1.6 0 1 0 -3.2 0M424.2 127.9a1.6 1.6 0 1 0 3.2 0a1.6 1.6 0 1 0 -3.2 0M424.2 142.3a1.6 1.6 0 1 0 3.2 0a1.6 1.6 0 1 0 -3.2 0M424.2 105.1a1.6 1.6 0 1 0 3.2 0a1.6 1.6 0 1 0 -3.2 0M424.2 159.8a1.6 1.6 0 1 0 3.2 0a1.6 1.6 0 1 0 -3.2 0M424.2 86.7a1.6 1.6 0 1 0 3.2 0a1.6 1.6 0 1 0 -3.2 0" fill="#c800c8"/>
<path d="M459.0 111.5a1.6 1.6 0 1 0 3.2 0a1.6 1.6 0 1 0 -3.2 0M459.0 135.3a1.6 1.6 0 1 0 3.2 0a1.6 1.6 0 1 0 -3.2 0M459.0 180.7a1.6 1.6 0 1 0 3.2 0a1.6 1.6 0 1 0 -3.2 0M459.0 136.1a1.6 1.6 0 1 0 3.2 0a1.6 1.6 0 1 0 -3.2 0M459.0 115.9a1.6 1.6 0 1 0 3.2 0a1.6 1.6 0 1 0 -3.2 0M459.0 86.0a1.6 1.6 0 1 0 3.2 0a1.6 1.6 0 1 0 -3.2 0M459.0 104.4a1.6 1.6 0 1 0 3.2 0a1.6 1.6 0 1 0 -3.2 0M459.0 157.7a1.6 1.6 0 1 0 3.2 0a1.6 1.6 0 1 0 -3.2 0M459.0 154.2a1.6 1.6 0 1 0 3.2 0a1.6 1.6 0 1 0 -3.2 0M459.0 78.2a1.6 1.6 0 1 0 3.2 0a1.6 1.6 0 1 0 -3.2 0M459.0 98.1a1.6 1.6 0 1 0 3.2 0a1.6 1.6 0 1 0 -3.2 0M459.0 83.9a1.6 1.6 0 1 0 3.2 0a1.6 1.6 0 1 0 -3.2 0M459.0 62.6a1.6 1.6 0 1 0 3.2 0a1.6 1.6 0 1 0 -3.2 0M459.0 162.4a1.6 1.6 0 1 0 3.2 0a1.6 1.6 0 1 0 -3.2 0M459.0 110.3a1.6 1.6 0 1 0 3.2 0a1.6 1.6 0 1 0 -3.2 0M459.0 113.4a1.6 1.6 0 1 0 3.2 0a1.6 1.6 0 1 0 -3.2 0M459.0 124.5a1.6 1.6 0 1 0 3.2 0a1.6 1.6 0 1 0 -3.2 0M459.0 101.6a1.6 1.6 0 1 0 3.2 0a1.6 1.6 0 1 0 -3.2 0M459.0 122.0a1.6 1.6 0 1 0 3.2 0a1.6 1.6 0 1 0 -3.2 0M459.0 132.6a1.6 1.6 0 1 0 3.2 0a1.6 1.6 0 1 0 -3.2 0M459.0 172.7a1.6 1.6 0 1 0 3.2 0a1.6 1.6 0 1 0 -3.2 0M459.0 138.9a1.6 1.6 0 1 0 3.2 0a1.6 1.6 0 1 0 -3.2 0M459.0 163.9a1.6 1.6 0 1 0 3.2 0a1.6 1.6 0 1 0 -3.2 0M459.0 128.4a1.6 1.6 0 1 0 3.2 0a1.6 1.6 0 1 0 -3.2 0M459.0 143.2a1.6 1.6 0 1 0 3.2 0a1.6 1.6 0 1 0 -3.2 0M459.0 107.9a1.6 1.6 0 1 0 3.2 0a1.6 1.6 0 1 0 -3.2 0M459.0 96.4a1.6 1.6 0 1 0 3.2 0a1.6 1.6 0 1 0 -3.2 0M459.0 119.8a1.6 1.6 0 1 0 3.2 0a1.6 1.6 0 1 0 -3.2 0M459.0 114.1a1.6 1.6 0 1 0 3.2 0a1.6 1.6 0 1 0 -3.2 0M459.0 127.1a1.6 1.6 0 1 0 3.2 0a1.6 1.6 0 1 0 -3.2 0M459.0 134.6a1.6 1.6 0 1 0 3.2 0a1.6 1.6 0 1 0 -3.2 0M459.0 133.9a1.6 1.6 0 1 0 3.2 0a1.6 1.6 0 1 0 -3.2 0M459.0 144.6a1.6 1.6 0 1 0 3.2 0a1.6 1.6 0 1 0 -3.2 0M459.0 109.5a1.6 1.6 0 1 0 3.2 0a1.6 1.6 0 1 0 -3.2 0M459.0 137.2a1.6 1.6 0 1 0 3.2 0a1.6 1.6 0 1 0 -3.2 0M459.0 118.8a1.6 1.6 0 1 0 3.2 0a1.6 1.6 0 1 0 -3.2 0M459.0 161.0a1.6 1.6 0 1 0 3.2 0a1.6 1.6 0 1 0 -3.2 0M459.0 95.1a1.6 1.6 0 1 0 3.2 0a1.6 1.6 0 1 0 -3.2 0M459.0 159.2a1.6 1.6 0 1 0 3.2 0a1.6 1.6 0 1 0 -3.2 0M459.0 156.4a1.6 1.6 0 1 0 3.2 0a1.6 1.6 0 1 0 -3.2 0M459.0 139.9a1.6 1.6 0 1 0 3.2 0a1.6 1.6 0 1 0 -3.2 0M459.0 146.6a1.6 1.6 0 1 0 3.2 0a1.6 1.6 0 1 0 -3.2 0M459.0 126.2a1.6 1.6 0 1 0 3.2 0a1.6 1.6 0 1 0 -3.2 0M459.0 150.0a1.6 1.6 0 1 0 3.2 0a1.6 1.6 0 1 0 -3.2 0M459.0 168.0a1.6 1.6 0 1 0 3.2 0a1.6 1.6 0 1 0 -3.2 0M459.0 152.9a1.6 1.6 0 1 0 3.2 0a1.6 1.6 0 1 0 -3.2 0M459.0 93.3a1.6 1.6 0 1 0 3.2 0a1.6 1.6 0 1 0 -3.2 0M459.0 141.4a1.6 1.6 0 1 0 3.2 0a1.6 1.6 0 1 0 -3.2 0M459.0 165.1a1.6 1.6 0 1 0 3.2 0a1.6 1.6 0 1 0 -3.2 0M459.0 130.0a1.6 1.6 0 1 0 3.2 0a1.6 1.6 0 1 0 -3.2 0M459.0 176.7a1.6 1.6 0 1 0 3.2 0a1.6 1.6 0 1 0 -3.2 0M459.0 89.3a1.6 1.6 0 1 0 3.2 0a1.6 1.6 0 1 0 -3.2 0" fill="#fa6400"/>
<path d="M493.2 138.0a1.6 1.6 0 1 0 3.2 0a1.6 1.6 0 1 0 -3.2 0M493.2 124.3a1.6 1.6 0 1 0 3.2 0a1.6 1.6 0 1 0 -3.2 0M493.2 193.6a1.6 1.6 0 1 0 3.2 0a1.6 1.6 0 1 0 -3.2 0M493.2 161.8a1.6 1.6 0 1 0 3.2 0a1.6 1.6 0 1 0 -3.2 0M493.2 147.7a1.6 1.6 0 1 0 3.2 0a1.6 1.6 0 1 0 -3.2 0M493.2 115.7a1.6 1.6 0 1 0 3.2 0a1.6 1.6 0 1 0 -3.2 0M493.2 158.0a1.6 1.6 0 1 0 3.2 0a1.6 1.6 0 1 0 -3.2 0M493.2 179.9a1.6 1.6 0 1 0 3.2 0a1.6 1.6 0 1 0 -3.2 0M493.2 173.2a1.6 1.6 0 1 0 3.2 0a1.6 1.6 0 1 0 -3.2 0M493.2 105.9a1.6 1.6 0 1 0 3.2 0a1.6 1.6 0 1 0 -3.2 0M493.2 114.0a1.6 1.6 0 1 0 3.2 0a1.6 1.6 0 1 0 -3.2 0M493.2 109.2a1.6 1.6 0 1 0 3.2 0a1.6 1.6 0 1 0 -3.2 0M493.2 95.0a1.6 1.6 0 1 0 3.2 0a1.6 1.6 0 1 0 -3.2 0M493.2 154.8a1.6 1.6 0 1 0 3.2 0a1.6 1.6 0 1 0 -3.2 0M493.2 144.2a1.6 1.6 0 1 0 3.2 0a1.6 1.6 0 1 0 -3.2 0M493.2 141.9a1.6 1.6 0 1 0 3.2 0a1.6 1.6 0 1 0 -3.2 0M493.2 131.8a1.6 1.6 0 1 0 3.2 0a1.6 1.6 0 1 0 -3.2 0M493.2 132.9a1.6 1.6 0 1 0 3.2 0a1.6 1.6 0 1 0 -3.2 0M493.2 136.5a1.6 1.6 0 1 0 3.2 0a1.6 1.6 0 1 0 -3.2 0M493.2 141.1a1.6 1.6 0 1 0 3.2 0a1.6 1.6 0 1 0 -3.2 0M493.2 186.4a1.6 1.6 0 1 0 3.2 0a1.6 1.6 0 1 0 -3.2 0M493.2 166.8a1.6 1.6 0 1 0 3.2 0a1.6 1.6 0 1 0 -3.2 0M493.2 156.8a1.6 1.6 0 1 0 3.2 0a1.6 1.6 0 1 0 -3.2 0M493.2 134.0a1.6 1.6 0 1 0 3.2 0a1.6 1.6 0 1 0 -3.2 0M493.2 182.3a1.6 1.6 0 1 0 3.2 0a1.6 1.6 0 1 0 -3.2 0M493.2 128.4a1.6 1.6 0 1 0 3.2 0a1.6 1.6 0 1 0 -3.2 0M493.2 129.5a1.6 1.6 0 1 0 3.2 0a1.6 1.6 0 1 0 -3.2 0M493.2 135.7a1.6 1.6 0 1 0 3.2 0a1.6 1.6 0 1 0 -3.2 0M493.2 139.1a1.6 1.6 0 1 0 3.2 0a1.6 1.6 0 1 0 -3.2 0M493.2 126.1a1.6 1.6 0 1 0 3.2 0a1.6 1.6 0 1 0 -3.2 0M493.2 167.8a1.6 1.6 0 1 0 3.2 0a1.6 1.6 0 1 0 -3.2 0M493.2 153.7a1.6 1.6 0 1 0 3.2 0a1.6 1.6 0 1 0 -3.2 0M493.2 171.0a1.6 1.6 0 1 0 3.2 0a1.6 1.6 0 1 0 -3.2 0M493.2 137.1a1.6 1.6 0 1 0 3.2 0a1.6 1.6 0 1 0 -3.2 0M493.2 152.8a1.6 1.6 0 1 0 3.2 0a1.6 1.6 0 1 0 -3.2 0M493.2 122.1a1.6 1.6 0 1 0 3.2 0a1.6 1.6 0 1 0 -3.2 0M493.2 181.0a1.6 1.6 0 1 0 3.2 0a1.6 1.6 0 1 0 -3.2 0M493.2 123.2a1.6 1.6 0 1 0 3.2 0a1.6 1.6 0 1 0 -3.2 0M493.2 170.1a1.6 1.6 0 1 0 3.2 0a1.6 1.6 0 1 0 -3.2 0M493.2 174.6a1.6 1.6 0 1 0 3.2 0a1.6 1.6 0 1 0 -3.2 0M493.2 169.0a1.6 1.6 0 1 0 3.2 0a1.6 1.6 0 1 0 -3.2 0M493.2 177.5a1.6 1.6 0 1 0 3.2 0a1.6 1.6 0 1 0 -3.2 0M493.2 150.5a1.6 1.6 0 1 0 3.2 0a1.6 1.6 0 1 0 -3.2 0M493.2 175.5a1.6 1.6 0 1 0 3.2 0a1.6 1.6 0 1 0 -3.2 0M493.2 183.6a1.6 1.6 0 1 0 3.2 0a1.6 1.6 0 1 0 -3.2 0M493.2 171.8a1.6 1.6 0 1 0 3.2 0a1.6 1.6 0 1 0 -3.2 0M493.2 112.8a1.6 1.6 0 1 0 3.2 0a1.6 1.6 0 1 0 -3.2 0M493.2 163.2a1.6 1.6 0 1 0 3.2 0a1.6 1.6 0 1 0 -3.2 0M493.2 178.6a1.6 1.6 0 1 0 3.2 0a1.6 1.6 0 1 0 -3.2 0M493.2 145.9a1.6 1.6 0 1 0 3.2 0a1.6 1.6 0 1 0 -3.2 0M493.2 188.9a1.6 1.6 0 1 0 3.2 0a1.6 1.6 0 1 0 -3.2 0M493.2 117.9a1.6 1.6 0 1 0 3.2 0a1.6 1.6 0 1 0 -3.2 0" fill="#00a800"/>
<line x1="425.9" y1="86.7" x2="425.9" y2="112.7" stroke="#141414" stroke-width="1.4" />
<line x1="425.9" y1="143.3" x2="425.9" y2="159.8" stroke="#141414" stroke-width="1.4" />
<line x1="421.8" y1="86.7" x2="430" y2="86.7" stroke="#141414" stroke-width="1.5" />
<line x1="421.8" y1="159.8" x2="430" y2="159.8" stroke="#141414" stroke-width="1.5" />
<rect x="418.30" y="112.70" width="15.20" height="30.60" fill="none" stroke="#141414" stroke-width="1.4"/>
<line x1="418.3" y1="124" x2="433.5" y2="124" stroke="#141414" stroke-width="1.4" />
<line x1="460.8" y1="78.2" x2="460.8" y2="109.6" stroke="#141414" stroke-width="1.4" />
<line x1="460.8" y1="142" x2="460.8" y2="168" stroke="#141414" stroke-width="1.4" />
<line x1="456.2" y1="78.2" x2="464.3" y2="78.2" stroke="#141414" stroke-width="1.5" />
<line x1="456.2" y1="168" x2="464.3" y2="168" stroke="#141414" stroke-width="1.5" />
<rect x="453.30" y="109.60" width="15.00" height="32.40" fill="none" stroke="#141414" stroke-width="1.4"/>
<line x1="453.3" y1="126.8" x2="468.3" y2="126.8" stroke="#141414" stroke-width="1.4" />
<line x1="494.75" y1="105.9" x2="494.75" y2="130.7" stroke="#141414" stroke-width="1.4" />
<line x1="494.75" y1="166" x2="494.75" y2="186.4" stroke="#141414" stroke-width="1.4" />
<line x1="490.4" y1="105.9" x2="498.8" y2="105.9" stroke="#141414" stroke-width="1.5" />
<line x1="490.4" y1="186.4" x2="498.8" y2="186.4" stroke="#141414" stroke-width="1.5" />
<rect x="487.00" y="130.70" width="15.50" height="35.30" fill="none" stroke="#141414" stroke-width="1.4"/>
<line x1="487" y1="145.3" x2="502.5" y2="145.3" stroke="#141414" stroke-width="1.4" />
<line x1="409.2" y1="176.5" x2="511.8" y2="176.5" stroke="#e4e4e4" stroke-width="1" stroke-dasharray="1 1"/>
<path d="M409.2 35.45V205.15" stroke="#141414" stroke-width="1.5" fill="none"/>
<path d="M408.45 36.2H512.55" stroke="#141414" stroke-width="1.5" fill="none"/>
<path d="M511.8 36.2V204.4" stroke="#141414" stroke-width="1.5" fill="none"/>
<path d="M408.45 204.4H512.55" stroke="#141414" stroke-width="1.5" fill="none"/>
<line x1="404.2" y1="176.5" x2="409.2" y2="176.5" stroke="#141414" stroke-width="1.35" />
<text x="401.8" y="180.1" font-size="12.0" text-anchor="end" font-weight="normal" fill="#141414" stroke="#141414" >0</text>
<line x1="404.2" y1="120.5" x2="409.2" y2="120.5" stroke="#141414" stroke-width="1.35" />
<text x="401.8" y="124.1" font-size="12.0" text-anchor="end" font-weight="normal" fill="#141414" stroke="#141414" >2</text>
<line x1="404.2" y1="64.5" x2="409.2" y2="64.5" stroke="#141414" stroke-width="1.35" />
<text x="401.8" y="68.1" font-size="12.0" text-anchor="end" font-weight="normal" fill="#141414" stroke="#141414" >4</text>
<line x1="425.5" y1="204.4" x2="425.5" y2="210.4" stroke="#141414" stroke-width="1.35" />
<line x1="460.3" y1="204.4" x2="460.3" y2="210.4" stroke="#141414" stroke-width="1.35" />
<line x1="494.6" y1="204.4" x2="494.6" y2="210.4" stroke="#141414" stroke-width="1.35" />
<text x="422.55" y="225.9" font-size="12.3" text-anchor="middle" font-weight="normal" fill="#141414" stroke="#141414" letter-spacing="0.25" >veh</text>
<text x="459.6" y="225.9" font-size="12.3" text-anchor="middle" font-weight="normal" fill="#141414" stroke="#141414" letter-spacing="0.25" >2h</text>
<text x="495.1" y="225.9" font-size="12.3" text-anchor="middle" font-weight="normal" fill="#141414" stroke="#141414" letter-spacing="0.25" >12h</text>
<line x1="448.2" y1="232.2" x2="505.9" y2="232.2" stroke="#141414" stroke-width="1.5" />
<text x="476.5" y="250.6" font-size="12.6" text-anchor="middle" font-weight="normal" fill="#141414" stroke="#141414" letter-spacing="0.15" >TGFβ</text>
<text transform="translate(386.9,121) rotate(-90)" font-size="12.3" letter-spacing="0.5" text-anchor="middle" font-weight="bold" fill="#141414" stroke="#141414">GSI</text>
<path d="M425.2 58.6V53.0H460.40000000000003M462.8 53.0H497.0V58.6" fill="none" stroke="#141414" stroke-width="1.5"/>
<rect x="460.0" y="53.0" width="3.2" height="5.900000000000001" fill="#141414"/>
<text x="433.2" y="48.65" font-size="10" text-anchor="start" font-weight="normal" fill="#141414" stroke="#141414" letter-spacing="-0.2" >0.79</text>
<text x="462.18" y="48.65" font-size="10" text-anchor="start" font-weight="normal" fill="#141414" stroke="#141414" letter-spacing="-0.038" >1.06x10<tspan font-size="6.3" dy="-3.0">-19</tspan></text>
<path d="M597.7 152.1L632.9 151.0L666.8 101.8M597.7 175.7L632.9 154.5L666.8 145.7M597.7 142.0L632.9 103.6L666.8 100.3M597.7 100.8L632.9 99.5L666.8 96.3M597.7 139.0L632.9 96.5L666.8 114.7M597.7 128.0L632.9 107.5L666.8 91.5M597.7 121.1L632.9 100.5L666.8 95.6M597.7 122.1L632.9 129.8L666.8 93.0M597.7 163.2L632.9 159.0L666.8 143.2M597.7 154.8L632.9 153.9L666.8 129.7M597.7 106.3L632.9 94.8L666.8 113.0M597.7 166.3L632.9 158.3L666.8 145.0M597.7 131.5L632.9 112.2L666.8 140.4M597.7 153.2L632.9 141.5L666.8 148.4M597.7 163.9L632.9 161.2L666.8 131.4M597.7 159.2L632.9 152.9L666.8 141.3M597.7 120.2L632.9 113.9L666.8 104.8M597.7 126.6L632.9 101.6L666.8 111.3M597.7 137.6L632.9 132.2L666.8 112.0M597.7 170.8L632.9 164.1L666.8 147.0M597.7 146.2L632.9 139.4L666.8 119.6M597.7 127.2L632.9 133.8L666.8 109.7M597.7 104.2L632.9 118.6L666.8 87.2M597.7 124.8L632.9 120.7L666.8 134.9M597.7 112.8L632.9 93.9L666.8 88.5M597.7 115.3L632.9 108.9L666.8 98.2M597.7 118.8L632.9 117.7L666.8 90.6M597.7 165.3L632.9 156.2L666.8 126.9M597.7 114.0L632.9 125.5L666.8 128.3M597.7 157.3L632.9 138.2L666.8 134.1M597.7 181.5L632.9 168.4L666.8 150.4M597.7 161.2L632.9 160.6L666.8 149.2M597.7 77.5L632.9 75.9L666.8 61.7M597.7 160.2L632.9 157.4L666.8 143.9M597.7 172.6L632.9 170.8L666.8 156.4M597.7 148.0L632.9 160.1L666.8 142.4M597.7 105.1L632.9 90.8L666.8 86.1M597.7 141.1L632.9 146.0L666.8 124.7M597.7 130.9L632.9 104.7L666.8 133.2M597.7 133.8L632.9 147.5L666.8 136.8M597.7 168.5L632.9 137.0L666.8 103.1M597.7 107.5L632.9 98.2L666.8 82.9M597.7 111.3L632.9 121.6L666.8 99.6M597.7 151.3L632.9 135.5L666.8 137.4M597.7 134.6L632.9 102.5L666.8 97.4M597.7 108.5L632.9 95.7L666.8 94.8M597.7 155.9L632.9 126.8L666.8 138.9M597.7 123.7L632.9 110.5L666.8 115.8M597.7 109.7L632.9 116.8L666.8 103.8M597.7 158.4L632.9 152.0L666.8 125.5M597.7 129.0L632.9 119.6L666.8 118.6M597.7 143.1L632.9 148.6L666.8 113.7" fill="none" stroke="#a9a9a9" stroke-width="0.6"/>
<path d="M596.1 152.1a1.6 1.6 0 1 0 3.2 0a1.6 1.6 0 1 0 -3.2 0M596.1 175.7a1.6 1.6 0 1 0 3.2 0a1.6 1.6 0 1 0 -3.2 0M596.1 142.0a1.6 1.6 0 1 0 3.2 0a1.6 1.6 0 1 0 -3.2 0M596.1 100.8a1.6 1.6 0 1 0 3.2 0a1.6 1.6 0 1 0 -3.2 0M596.1 139.0a1.6 1.6 0 1 0 3.2 0a1.6 1.6 0 1 0 -3.2 0M596.1 128.0a1.6 1.6 0 1 0 3.2 0a1.6 1.6 0 1 0 -3.2 0M596.1 121.1a1.6 1.6 0 1 0 3.2 0a1.6 1.6 0 1 0 -3.2 0M596.1 122.1a1.6 1.6 0 1 0 3.2 0a1.6 1.6 0 1 0 -3.2 0M596.1 163.2a1.6 1.6 0 1 0 3.2 0a1.6 1.6 0 1 0 -3.2 0M596.1 154.8a1.6 1.6 0 1 0 3.2 0a1.6 1.6 0 1 0 -3.2 0M596.1 106.3a1.6 1.6 0 1 0 3.2 0a1.6 1.6 0 1 0 -3.2 0M596.1 166.3a1.6 1.6 0 1 0 3.2 0a1.6 1.6 0 1 0 -3.2 0M596.1 131.5a1.6 1.6 0 1 0 3.2 0a1.6 1.6 0 1 0 -3.2 0M596.1 153.2a1.6 1.6 0 1 0 3.2 0a1.6 1.6 0 1 0 -3.2 0M596.1 163.9a1.6 1.6 0 1 0 3.2 0a1.6 1.6 0 1 0 -3.2 0M596.1 159.2a1.6 1.6 0 1 0 3.2 0a1.6 1.6 0 1 0 -3.2 0M596.1 120.2a1.6 1.6 0 1 0 3.2 0a1.6 1.6 0 1 0 -3.2 0M596.1 126.6a1.6 1.6 0 1 0 3.2 0a1.6 1.6 0 1 0 -3.2 0M596.1 137.6a1.6 1.6 0 1 0 3.2 0a1.6 1.6 0 1 0 -3.2 0M596.1 170.8a1.6 1.6 0 1 0 3.2 0a1.6 1.6 0 1 0 -3.2 0M596.1 146.2a1.6 1.6 0 1 0 3.2 0a1.6 1.6 0 1 0 -3.2 0M596.1 127.2a1.6 1.6 0 1 0 3.2 0a1.6 1.6 0 1 0 -3.2 0M596.1 104.2a1.6 1.6 0 1 0 3.2 0a1.6 1.6 0 1 0 -3.2 0M596.1 124.8a1.6 1.6 0 1 0 3.2 0a1.6 1.6 0 1 0 -3.2 0M596.1 112.8a1.6 1.6 0 1 0 3.2 0a1.6 1.6 0 1 0 -3.2 0M596.1 115.3a1.6 1.6 0 1 0 3.2 0a1.6 1.6 0 1 0 -3.2 0M596.1 118.8a1.6 1.6 0 1 0 3.2 0a1.6 1.6 0 1 0 -3.2 0M596.1 165.3a1.6 1.6 0 1 0 3.2 0a1.6 1.6 0 1 0 -3.2 0M596.1 114.0a1.6 1.6 0 1 0 3.2 0a1.6 1.6 0 1 0 -3.2 0M596.1 157.3a1.6 1.6 0 1 0 3.2 0a1.6 1.6 0 1 0 -3.2 0M596.1 181.5a1.6 1.6 0 1 0 3.2 0a1.6 1.6 0 1 0 -3.2 0M596.1 161.2a1.6 1.6 0 1 0 3.2 0a1.6 1.6 0 1 0 -3.2 0M596.1 77.5a1.6 1.6 0 1 0 3.2 0a1.6 1.6 0 1 0 -3.2 0M596.1 160.2a1.6 1.6 0 1 0 3.2 0a1.6 1.6 0 1 0 -3.2 0M596.1 172.6a1.6 1.6 0 1 0 3.2 0a1.6 1.6 0 1 0 -3.2 0M596.1 148.0a1.6 1.6 0 1 0 3.2 0a1.6 1.6 0 1 0 -3.2 0M596.1 105.1a1.6 1.6 0 1 0 3.2 0a1.6 1.6 0 1 0 -3.2 0M596.1 141.1a1.6 1.6 0 1 0 3.2 0a1.6 1.6 0 1 0 -3.2 0M596.1 130.9a1.6 1.6 0 1 0 3.2 0a1.6 1.6 0 1 0 -3.2 0M596.1 133.8a1.6 1.6 0 1 0 3.2 0a1.6 1.6 0 1 0 -3.2 0M596.1 168.5a1.6 1.6 0 1 0 3.2 0a1.6 1.6 0 1 0 -3.2 0M596.1 107.5a1.6 1.6 0 1 0 3.2 0a1.6 1.6 0 1 0 -3.2 0M596.1 111.3a1.6 1.6 0 1 0 3.2 0a1.6 1.6 0 1 0 -3.2 0M596.1 151.3a1.6 1.6 0 1 0 3.2 0a1.6 1.6 0 1 0 -3.2 0M596.1 134.6a1.6 1.6 0 1 0 3.2 0a1.6 1.6 0 1 0 -3.2 0M596.1 108.5a1.6 1.6 0 1 0 3.2 0a1.6 1.6 0 1 0 -3.2 0M596.1 155.9a1.6 1.6 0 1 0 3.2 0a1.6 1.6 0 1 0 -3.2 0M596.1 123.7a1.6 1.6 0 1 0 3.2 0a1.6 1.6 0 1 0 -3.2 0M596.1 109.7a1.6 1.6 0 1 0 3.2 0a1.6 1.6 0 1 0 -3.2 0M596.1 158.4a1.6 1.6 0 1 0 3.2 0a1.6 1.6 0 1 0 -3.2 0M596.1 129.0a1.6 1.6 0 1 0 3.2 0a1.6 1.6 0 1 0 -3.2 0M596.1 143.1a1.6 1.6 0 1 0 3.2 0a1.6 1.6 0 1 0 -3.2 0" fill="#c800c8"/>
<path d="M631.3 151.0a1.6 1.6 0 1 0 3.2 0a1.6 1.6 0 1 0 -3.2 0M631.3 154.5a1.6 1.6 0 1 0 3.2 0a1.6 1.6 0 1 0 -3.2 0M631.3 103.6a1.6 1.6 0 1 0 3.2 0a1.6 1.6 0 1 0 -3.2 0M631.3 99.5a1.6 1.6 0 1 0 3.2 0a1.6 1.6 0 1 0 -3.2 0M631.3 96.5a1.6 1.6 0 1 0 3.2 0a1.6 1.6 0 1 0 -3.2 0M631.3 107.5a1.6 1.6 0 1 0 3.2 0a1.6 1.6 0 1 0 -3.2 0M631.3 100.5a1.6 1.6 0 1 0 3.2 0a1.6 1.6 0 1 0 -3.2 0M631.3 129.8a1.6 1.6 0 1 0 3.2 0a1.6 1.6 0 1 0 -3.2 0M631.3 159.0a1.6 1.6 0 1 0 3.2 0a1.6 1.6 0 1 0 -3.2 0M631.3 153.9a1.6 1.6 0 1 0 3.2 0a1.6 1.6 0 1 0 -3.2 0M631.3 94.8a1.6 1.6 0 1 0 3.2 0a1.6 1.6 0 1 0 -3.2 0M631.3 158.3a1.6 1.6 0 1 0 3.2 0a1.6 1.6 0 1 0 -3.2 0M631.3 112.2a1.6 1.6 0 1 0 3.2 0a1.6 1.6 0 1 0 -3.2 0M631.3 141.5a1.6 1.6 0 1 0 3.2 0a1.6 1.6 0 1 0 -3.2 0M631.3 161.2a1.6 1.6 0 1 0 3.2 0a1.6 1.6 0 1 0 -3.2 0M631.3 152.9a1.6 1.6 0 1 0 3.2 0a1.6 1.6 0 1 0 -3.2 0M631.3 113.9a1.6 1.6 0 1 0 3.2 0a1.6 1.6 0 1 0 -3.2 0M631.3 101.6a1.6 1.6 0 1 0 3.2 0a1.6 1.6 0 1 0 -3.2 0M631.3 132.2a1.6 1.6 0 1 0 3.2 0a1.6 1.6 0 1 0 -3.2 0M631.3 164.1a1.6 1.6 0 1 0 3.2 0a1.6 1.6 0 1 0 -3.2 0M631.3 139.4a1.6 1.6 0 1 0 3.2 0a1.6 1.6 0 1 0 -3.2 0M631.3 133.8a1.6 1.6 0 1 0 3.2 0a1.6 1.6 0 1 0 -3.2 0M631.3 118.6a1.6 1.6 0 1 0 3.2 0a1.6 1.6 0 1 0 -3.2 0M631.3 120.7a1.6 1.6 0 1 0 3.2 0a1.6 1.6 0 1 0 -3.2 0M631.3 93.9a1.6 1.6 0 1 0 3.2 0a1.6 1.6 0 1 0 -3.2 0M631.3 108.9a1.6 1.6 0 1 0 3.2 0a1.6 1.6 0 1 0 -3.2 0M631.3 117.7a1.6 1.6 0 1 0 3.2 0a1.6 1.6 0 1 0 -3.2 0M631.3 156.2a1.6 1.6 0 1 0 3.2 0a1.6 1.6 0 1 0 -3.2 0M631.3 125.5a1.6 1.6 0 1 0 3.2 0a1.6 1.6 0 1 0 -3.2 0M631.3 138.2a1.6 1.6 0 1 0 3.2 0a1.6 1.6 0 1 0 -3.2 0M631.3 168.4a1.6 1.6 0 1 0 3.2 0a1.6 1.6 0 1 0 -3.2 0M631.3 160.6a1.6 1.6 0 1 0 3.2 0a1.6 1.6 0 1 0 -3.2 0M631.3 75.9a1.6 1.6 0 1 0 3.2 0a1.6 1.6 0 1 0 -3.2 0M631.3 157.4a1.6 1.6 0 1 0 3.2 0a1.6 1.6 0 1 0 -3.2 0M631.3 170.8a1.6 1.6 0 1 0 3.2 0a1.6 1.6 0 1 0 -3.2 0M631.3 160.1a1.6 1.6 0 1 0 3.2 0a1.6 1.6 0 1 0 -3.2 0M631.3 90.8a1.6 1.6 0 1 0 3.2 0a1.6 1.6 0 1 0 -3.2 0M631.3 146.0a1.6 1.6 0 1 0 3.2 0a1.6 1.6 0 1 0 -3.2 0M631.3 104.7a1.6 1.6 0 1 0 3.2 0a1.6 1.6 0 1 0 -3.2 0M631.3 147.5a1.6 1.6 0 1 0 3.2 0a1.6 1.6 0 1 0 -3.2 0M631.3 137.0a1.6 1.6 0 1 0 3.2 0a1.6 1.6 0 1 0 -3.2 0M631.3 98.2a1.6 1.6 0 1 0 3.2 0a1.6 1.6 0 1 0 -3.2 0M631.3 121.6a1.6 1.6 0 1 0 3.2 0a1.6 1.6 0 1 0 -3.2 0M631.3 135.5a1.6 1.6 0 1 0 3.2 0a1.6 1.6 0 1 0 -3.2 0M631.3 102.5a1.6 1.6 0 1 0 3.2 0a1.6 1.6 0 1 0 -3.2 0M631.3 95.7a1.6 1.6 0 1 0 3.2 0a1.6 1.6 0 1 0 -3.2 0M631.3 126.8a1.6 1.6 0 1 0 3.2 0a1.6 1.6 0 1 0 -3.2 0M631.3 110.5a1.6 1.6 0 1 0 3.2 0a1.6 1.6 0 1 0 -3.2 0M631.3 116.8a1.6 1.6 0 1 0 3.2 0a1.6 1.6 0 1 0 -3.2 0M631.3 152.0a1.6 1.6 0 1 0 3.2 0a1.6 1.6 0 1 0 -3.2 0M631.3 119.6a1.6 1.6 0 1 0 3.2 0a1.6 1.6 0 1 0 -3.2 0M631.3 148.6a1.6 1.6 0 1 0 3.2 0a1.6 1.6 0 1 0 -3.2 0" fill="#fa6400"/>
<path d="M665.2 101.8a1.6 1.6 0 1 0 3.2 0a1.6 1.6 0 1 0 -3.2 0M665.2 145.7a1.6 1.6 0 1 0 3.2 0a1.6 1.6 0 1 0 -3.2 0M665.2 100.3a1.6 1.6 0 1 0 3.2 0a1.6 1.6 0 1 0 -3.2 0M665.2 96.3a1.6 1.6 0 1 0 3.2 0a1.6 1.6 0 1 0 -3.2 0M665.2 114.7a1.6 1.6 0 1 0 3.2 0a1.6 1.6 0 1 0 -3.2 0M665.2 91.5a1.6 1.6 0 1 0 3.2 0a1.6 1.6 0 1 0 -3.2 0M665.2 95.6a1.6 1.6 0 1 0 3.2 0a1.6 1.6 0 1 0 -3.2 0M665.2 93.0a1.6 1.6 0 1 0 3.2 0a1.6 1.6 0 1 0 -3.2 0M665.2 143.2a1.6 1.6 0 1 0 3.2 0a1.6 1.6 0 1 0 -3.2 0M665.2 129.7a1.6 1.6 0 1 0 3.2 0a1.6 1.6 0 1 0 -3.2 0M665.2 113.0a1.6 1.6 0 1 0 3.2 0a1.6 1.6 0 1 0 -3.2 0M665.2 145.0a1.6 1.6 0 1 0 3.2 0a1.6 1.6 0 1 0 -3.2 0M665.2 140.4a1.6 1.6 0 1 0 3.2 0a1.6 1.6 0 1 0 -3.2 0M665.2 148.4a1.6 1.6 0 1 0 3.2 0a1.6 1.6 0 1 0 -3.2 0M665.2 131.4a1.6 1.6 0 1 0 3.2 0a1.6 1.6 0 1 0 -3.2 0M665.2 141.3a1.6 1.6 0 1 0 3.2 0a1.6 1.6 0 1 0 -3.2 0M665.2 104.8a1.6 1.6 0 1 0 3.2 0a1.6 1.6 0 1 0 -3.2 0M665.2 111.3a1.6 1.6 0 1 0 3.2 0a1.6 1.6 0 1 0 -3.2 0M665.2 112.0a1.6 1.6 0 1 0 3.2 0a1.6 1.6 0 1 0 -3.2 0M665.2 147.0a1.6 1.6 0 1 0 3.2 0a1.6 1.6 0 1 0 -3.2 0M665.2 119.6a1.6 1.6 0 1 0 3.2 0a1.6 1.6 0 1 0 -3.2 0M665.2 109.7a1.6 1.6 0 1 0 3.2 0a1.6 1.6 0 1 0 -3.2 0M665.2 87.2a1.6 1.6 0 1 0 3.2 0a1.6 1.6 0 1 0 -3.2 0M665.2 134.9a1.6 1.6 0 1 0 3.2 0a1.6 1.6 0 1 0 -3.2 0M665.2 88.5a1.6 1.6 0 1 0 3.2 0a1.6 1.6 0 1 0 -3.2 0M665.2 98.2a1.6 1.6 0 1 0 3.2 0a1.6 1.6 0 1 0 -3.2 0M665.2 90.6a1.6 1.6 0 1 0 3.2 0a1.6 1.6 0 1 0 -3.2 0M665.2 126.9a1.6 1.6 0 1 0 3.2 0a1.6 1.6 0 1 0 -3.2 0M665.2 128.3a1.6 1.6 0 1 0 3.2 0a1.6 1.6 0 1 0 -3.2 0M665.2 134.1a1.6 1.6 0 1 0 3.2 0a1.6 1.6 0 1 0 -3.2 0M665.2 150.4a1.6 1.6 0 1 0 3.2 0a1.6 1.6 0 1 0 -3.2 0M665.2 149.2a1.6 1.6 0 1 0 3.2 0a1.6 1.6 0 1 0 -3.2 0M665.2 61.7a1.6 1.6 0 1 0 3.2 0a1.6 1.6 0 1 0 -3.2 0M665.2 143.9a1.6 1.6 0 1 0 3.2 0a1.6 1.6 0 1 0 -3.2 0M665.2 156.4a1.6 1.6 0 1 0 3.2 0a1.6 1.6 0 1 0 -3.2 0M665.2 142.4a1.6 1.6 0 1 0 3.2 0a1.6 1.6 0 1 0 -3.2 0M665.2 86.1a1.6 1.6 0 1 0 3.2 0a1.6 1.6 0 1 0 -3.2 0M665.2 124.7a1.6 1.6 0 1 0 3.2 0a1.6 1.6 0 1 0 -3.2 0M665.2 133.2a1.6 1.6 0 1 0 3.2 0a1.6 1.6 0 1 0 -3.2 0M665.2 136.8a1.6 1.6 0 1 0 3.2 0a1.6 1.6 0 1 0 -3.2 0M665.2 103.1a1.6 1.6 0 1 0 3.2 0a1.6 1.6 0 1 0 -3.2 0M665.2 82.9a1.6 1.6 0 1 0 3.2 0a1.6 1.6 0 1 0 -3.2 0M665.2 99.6a1.6 1.6 0 1 0 3.2 0a1.6 1.6 0 1 0 -3.2 0M665.2 137.4a1.6 1.6 0 1 0 3.2 0a1.6 1.6 0 1 0 -3.2 0M665.2 97.4a1.6 1.6 0 1 0 3.2 0a1.6 1.6 0 1 0 -3.2 0M665.2 94.8a1.6 1.6 0 1 0 3.2 0a1.6 1.6 0 1 0 -3.2 0M665.2 138.9a1.6 1.6 0 1 0 3.2 0a1.6 1.6 0 1 0 -3.2 0M665.2 115.8a1.6 1.6 0 1 0 3.2 0a1.6 1.6 0 1 0 -3.2 0M665.2 103.8a1.6 1.6 0 1 0 3.2 0a1.6 1.6 0 1 0 -3.2 0M665.2 125.5a1.6 1.6 0 1 0 3.2 0a1.6 1.6 0 1 0 -3.2 0M665.2 118.6a1.6 1.6 0 1 0 3.2 0a1.6 1.6 0 1 0 -3.2 0M665.2 113.7a1.6 1.6 0 1 0 3.2 0a1.6 1.6 0 1 0 -3.2 0" fill="#00a800"/>
<line x1="596.65" y1="100.8" x2="596.65" y2="121.2" stroke="#141414" stroke-width="1.4" />
<line x1="596.65" y1="155" x2="596.65" y2="172.6" stroke="#141414" stroke-width="1.4" />
<line x1="592.2" y1="100.8" x2="600.7" y2="100.8" stroke="#141414" stroke-width="2.0" />
<line x1="592.2" y1="172.6" x2="600.7" y2="172.6" stroke="#141414" stroke-width="2.0" />
<rect x="589.00" y="121.20" width="15.30" height="33.80" fill="none" stroke="#141414" stroke-width="1.4"/>
<line x1="589" y1="135.6" x2="604.3" y2="135.6" stroke="#141414" stroke-width="1.4" />
<line x1="631.6" y1="90.8" x2="631.6" y2="109.9" stroke="#141414" stroke-width="1.4" />
<line x1="631.6" y1="150.9" x2="631.6" y2="164.1" stroke="#141414" stroke-width="1.4" />
<line x1="627.2" y1="90.8" x2="635.8" y2="90.8" stroke="#141414" stroke-width="2.0" />
<line x1="627.2" y1="164.1" x2="635.8" y2="164.1" stroke="#141414" stroke-width="2.0" />
<rect x="623.60" y="109.90" width="16.00" height="41.00" fill="none" stroke="#141414" stroke-width="1.4"/>
<line x1="623.6" y1="131.4" x2="639.6" y2="131.4" stroke="#141414" stroke-width="1.4" />
<line x1="666.4" y1="82.9" x2="666.4" y2="99.7" stroke="#141414" stroke-width="1.4" />
<line x1="666.4" y1="134.2" x2="666.4" y2="150.4" stroke="#141414" stroke-width="1.4" />
<line x1="661.9" y1="82.9" x2="670.4" y2="82.9" stroke="#141414" stroke-width="2.0" />
<line x1="661.9" y1="150.4" x2="670.4" y2="150.4" stroke="#141414" stroke-width="2.0" />
<rect x="658.50" y="99.70" width="15.80" height="34.50" fill="none" stroke="#141414" stroke-width="1.4"/>
<line x1="658.5" y1="114.7" x2="674.3" y2="114.7" stroke="#141414" stroke-width="1.4" />
<line x1="580" y1="175.3" x2="683.8" y2="175.3" stroke="#e4e4e4" stroke-width="1" stroke-dasharray="1 1"/>
<path d="M580.0 34.7V204.3" stroke="#141414" stroke-width="2.7" fill="none"/>
<path d="M578.65 35.5H684.8" stroke="#141414" stroke-width="1.6" fill="none"/>
<path d="M683.8 35.5V203.4" stroke="#141414" stroke-width="2.0" fill="none"/>
<path d="M578.65 203.4H684.8" stroke="#141414" stroke-width="1.8" fill="none"/>
<line x1="574" y1="175.3" x2="580" y2="175.3" stroke="#141414" stroke-width="1.2" />
<text x="573.3" y="179.2" font-size="12.2" text-anchor="end" font-weight="bold" fill="#141414" stroke="#141414" >0</text>
<line x1="574" y1="119.6" x2="580" y2="119.6" stroke="#141414" stroke-width="1.2" />
<text x="573.3" y="123.5" font-size="12.2" text-anchor="end" font-weight="bold" fill="#141414" stroke="#141414" >2</text>
<line x1="574" y1="63.9" x2="580" y2="63.9" stroke="#141414" stroke-width="1.2" />
<text x="573.3" y="67.8" font-size="12.2" text-anchor="end" font-weight="bold" fill="#141414" stroke="#141414" >4</text>
<line x1="597" y1="203.4" x2="597" y2="209.4" stroke="#141414" stroke-width="2.3400000000000003" />
<line x1="631.6" y1="203.4" x2="631.6" y2="209.4" stroke="#141414" stroke-width="2.3400000000000003" />
<line x1="666" y1="203.4" x2="666" y2="209.4" stroke="#141414" stroke-width="2.3400000000000003" />
<text x="599.2" y="225.9" font-size="12.3" text-anchor="middle" font-weight="normal" fill="#141414" stroke="#141414" letter-spacing="0.25" >veh</text>
<text x="633.5" y="225.9" font-size="12.3" text-anchor="middle" font-weight="normal" fill="#141414" stroke="#141414" letter-spacing="0.25" >2h</text>
<text x="669.7" y="225.9" font-size="12.3" text-anchor="middle" font-weight="normal" fill="#141414" stroke="#141414" letter-spacing="0.25" >12h</text>
<line x1="626.5" y1="232.2" x2="684.5" y2="232.2" stroke="#141414" stroke-width="1.5" />
<text x="656.2" y="250.6" font-size="12.6" text-anchor="middle" font-weight="normal" fill="#141414" stroke="#141414" letter-spacing="0.15" >TGFβ</text>
<text transform="translate(553.8,121) rotate(-90)" font-size="12.3" letter-spacing="0.5" text-anchor="middle" font-weight="bold" fill="#141414" stroke="#141414">GSI</text>
<path d="M598.6 57.4V51.8H632.4M634.8000000000001 51.8H669.0V57.4" fill="none" stroke="#141414" stroke-width="1.5"/>
<rect x="632.0" y="51.8" width="3.2" height="5.900000000000001" fill="#141414"/>
<text x="592.18" y="47.2" font-size="10" text-anchor="start" font-weight="normal" fill="#141414" stroke="#141414" letter-spacing="0.035" >1.83x10<tspan font-size="6.3" dy="-3.0">-6</tspan></text>
<text x="635.6" y="47.2" font-size="10" text-anchor="start" font-weight="normal" fill="#141414" stroke="#141414" letter-spacing="-0.04" >2.46x10<tspan font-size="6.3" dy="-3.0">-10</tspan></text>
</svg></body></html>
